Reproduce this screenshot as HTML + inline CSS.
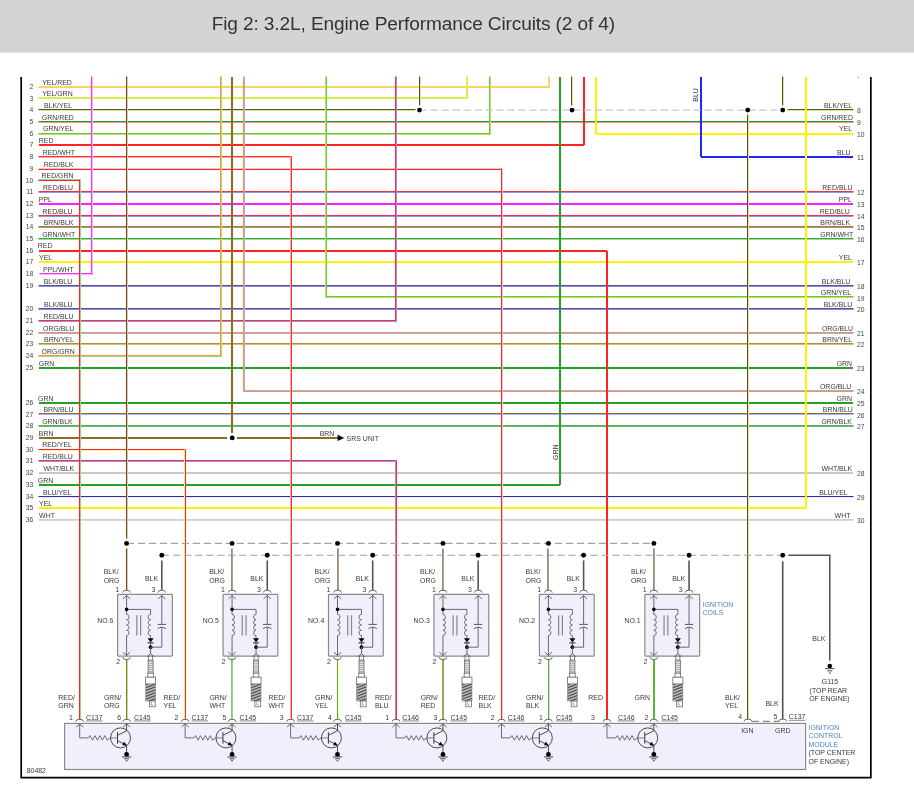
<!DOCTYPE html>
<html><head><meta charset="utf-8"><title>Fig 2: 3.2L, Engine Performance Circuits (2 of 4)</title>
<style>
html,body{margin:0;padding:0;background:#fff;}
body{width:914px;height:810px;position:relative;overflow:hidden;font-family:"Liberation Sans",Arial,sans-serif;}
.hdr{position:absolute;left:0;top:0;width:914px;height:52px;background:#d4d4d4;border-bottom:1px solid #e6e6e6;}
svg{position:absolute;left:0;top:0;}
svg text{font-family:"Liberation Sans",Arial,sans-serif;}
</style></head>
<body>
<div class="hdr"></div>
<svg width="914" height="810" viewBox="0 0 914 810">
<text x="211.7" y="29.9" font-size="19.1" fill="#333" textLength="403.5">Fig 2: 3.2L, Engine Performance Circuits (2 of 4)</text>
<path d="M21.2,77 L21.2,777.6 L870.85,777.6 L870.85,77" stroke="#000" stroke-width="1.7" fill="none"/>
<path d="M39.0,122.5 L853.0,122.5" stroke="#ff9090" stroke-width="1" fill="none" stroke-linecap="square"/>
<path d="M39.0,121.5 L853.0,121.5" stroke="#2a9a24" stroke-width="1" fill="none" stroke-linecap="square"/>
<path d="M39.0,192.5 L853.0,192.5" stroke="#9a90f0" stroke-width="1" fill="none" stroke-linecap="square"/>
<path d="M39.0,191.5 L853.0,191.5" stroke="#f23040" stroke-width="1" fill="none" stroke-linecap="square"/>
<path d="M39.0,204.0 L853.0,204.0" stroke="#ff1eff" stroke-width="2" fill="none"/>
<path d="M39.0,216.5 L853.0,216.5" stroke="#9a90f0" stroke-width="1" fill="none" stroke-linecap="square"/>
<path d="M39.0,215.5 L853.0,215.5" stroke="#f23040" stroke-width="1" fill="none" stroke-linecap="square"/>
<path d="M39.0,227.5 L853.0,227.5" stroke="#b09870" stroke-width="1" fill="none" stroke-linecap="square"/>
<path d="M39.0,226.5 L853.0,226.5" stroke="#9c7c44" stroke-width="1" fill="none" stroke-linecap="square"/>
<path d="M39.0,239.5 L853.0,239.5" stroke="#a0dca0" stroke-width="1" fill="none" stroke-linecap="square"/>
<path d="M39.0,238.5 L853.0,238.5" stroke="#2ea82e" stroke-width="1" fill="none" stroke-linecap="square"/>
<path d="M39.0,262.0 L853.0,262.0" stroke="#fff200" stroke-width="2" fill="none"/>
<path d="M39.0,286.5 L853.0,286.5" stroke="#8888ff" stroke-width="1" fill="none" stroke-linecap="square"/>
<path d="M39.0,285.5 L853.0,285.5" stroke="#585868" stroke-width="1" fill="none" stroke-linecap="square"/>
<path d="M39.0,309.5 L853.0,309.5" stroke="#8888ff" stroke-width="1" fill="none" stroke-linecap="square"/>
<path d="M39.0,308.5 L853.0,308.5" stroke="#585868" stroke-width="1" fill="none" stroke-linecap="square"/>
<path d="M39.0,333.5 L853.0,333.5" stroke="#a8a8ff" stroke-width="1" fill="none" stroke-linecap="square"/>
<path d="M39.0,332.5 L853.0,332.5" stroke="#ff9432" stroke-width="1" fill="none" stroke-linecap="square"/>
<path d="M39.0,344.5 L853.0,344.5" stroke="#d0c070" stroke-width="1" fill="none" stroke-linecap="square"/>
<path d="M39.0,343.5 L853.0,343.5" stroke="#a89040" stroke-width="1" fill="none" stroke-linecap="square"/>
<path d="M39.0,368.0 L853.0,368.0" stroke="#22a422" stroke-width="2" fill="none"/>
<path d="M39.0,403.0 L853.0,403.0" stroke="#22a422" stroke-width="2" fill="none"/>
<path d="M39.0,414.5 L853.0,414.5" stroke="#b0b0ff" stroke-width="1" fill="none" stroke-linecap="square"/>
<path d="M39.0,413.5 L853.0,413.5" stroke="#8c6c28" stroke-width="1" fill="none" stroke-linecap="square"/>
<path d="M39.0,426.5 L853.0,426.5" stroke="#70b070" stroke-width="1" fill="none" stroke-linecap="square"/>
<path d="M39.0,425.5 L853.0,425.5" stroke="#54b454" stroke-width="1" fill="none" stroke-linecap="square"/>
<path d="M39.0,473.0 L853.0,473.0" stroke="#c8c8c8" stroke-width="2" fill="none"/>
<path d="M39.0,497.5 L853.0,497.5" stroke="#f8f4a0" stroke-width="1" fill="none" stroke-linecap="square"/>
<path d="M39.0,496.5 L853.0,496.5" stroke="#2424ff" stroke-width="1" fill="none" stroke-linecap="square"/>
<path d="M39.0,520.5 L853.0,520.5" stroke="#d8d8d8" stroke-width="1" fill="none" stroke-linecap="square"/>
<path d="M39.0,519.5 L853.0,519.5" stroke="#d0d0d0" stroke-width="1" fill="none" stroke-linecap="square"/>
<path d="M39.0,87.5 L549.0,87.5" stroke="#ffc0b8" stroke-width="1" fill="none" stroke-linecap="square"/>
<path d="M39.0,86.5 L549.0,86.5" stroke="#ffe21e" stroke-width="1" fill="none" stroke-linecap="square"/>
<path d="M39.0,98.5 L467.0,98.5" stroke="#c8ec60" stroke-width="1" fill="none" stroke-linecap="square"/>
<path d="M39.0,97.5 L467.0,97.5" stroke="#e4f03a" stroke-width="1" fill="none" stroke-linecap="square"/>
<path d="M39.0,110.5 L415.0,110.5" stroke="#ece070" stroke-width="1" fill="none" stroke-linecap="square"/>
<path d="M39.0,109.5 L415.0,109.5" stroke="#505050" stroke-width="1" fill="none" stroke-linecap="square"/>
<path d="M788.0,110.5 L853.0,110.5" stroke="#ece070" stroke-width="1" fill="none" stroke-linecap="square"/>
<path d="M788.0,109.5 L853.0,109.5" stroke="#505050" stroke-width="1" fill="none" stroke-linecap="square"/>
<path d="M39.0,134.5 L490.0,134.5" stroke="#b8e070" stroke-width="1" fill="none" stroke-linecap="square"/>
<path d="M39.0,133.5 L490.0,133.5" stroke="#6cc832" stroke-width="1" fill="none" stroke-linecap="square"/>
<path d="M596.0,134.0 L853.0,134.0" stroke="#fff200" stroke-width="2" fill="none"/>
<path d="M39.0,145.0 L584.0,145.0" stroke="#ff2424" stroke-width="2" fill="none"/>
<path d="M39.0,157.5 L291.0,157.5" stroke="#ffa8a8" stroke-width="1" fill="none" stroke-linecap="square"/>
<path d="M39.0,156.5 L291.0,156.5" stroke="#ff3030" stroke-width="1" fill="none" stroke-linecap="square"/>
<path d="M701.0,157.0 L853.0,157.0" stroke="#2424ff" stroke-width="2" fill="none"/>
<path d="M39.0,168.5 L502.0,168.5" stroke="#f8c4c4" stroke-width="1" fill="none" stroke-linecap="square"/>
<path d="M39.0,169.5 L502.0,169.5" stroke="#f02828" stroke-width="1" fill="none" stroke-linecap="square"/>
<path d="M39.0,179.5 L80.0,179.5" stroke="#90d890" stroke-width="1" fill="none" stroke-linecap="square"/>
<path d="M39.0,180.5 L80.0,180.5" stroke="#ff2424" stroke-width="1" fill="none" stroke-linecap="square"/>
<path d="M39.0,251.0 L607.0,251.0" stroke="#ff2424" stroke-width="2" fill="none"/>
<path d="M40.0,274.5 L92.0,274.5" stroke="#ffb0ff" stroke-width="1" fill="none" stroke-linecap="square"/>
<path d="M40.0,273.5 L92.0,273.5" stroke="#ff2cff" stroke-width="1" fill="none" stroke-linecap="square"/>
<path d="M326.0,297.5 L853.0,297.5" stroke="#b8e070" stroke-width="1" fill="none" stroke-linecap="square"/>
<path d="M326.0,296.5 L853.0,296.5" stroke="#6cc832" stroke-width="1" fill="none" stroke-linecap="square"/>
<path d="M39.0,321.5 L396.0,321.5" stroke="#9a90f0" stroke-width="1" fill="none" stroke-linecap="square"/>
<path d="M39.0,320.5 L396.0,320.5" stroke="#f23040" stroke-width="1" fill="none" stroke-linecap="square"/>
<path d="M39.0,356.5 L221.0,356.5" stroke="#b0d880" stroke-width="1" fill="none" stroke-linecap="square"/>
<path d="M39.0,355.5 L221.0,355.5" stroke="#ff9432" stroke-width="1" fill="none" stroke-linecap="square"/>
<path d="M244.0,390.5 L853.0,390.5" stroke="#a8a8ff" stroke-width="1" fill="none" stroke-linecap="square"/>
<path d="M244.0,391.5 L853.0,391.5" stroke="#ff9432" stroke-width="1" fill="none" stroke-linecap="square"/>
<path d="M39.0,438.0 L227.0,438.0" stroke="#8c6c1e" stroke-width="2" fill="none"/>
<path d="M237.0,438.0 L338.0,438.0" stroke="#8c6c1e" stroke-width="2" fill="none"/>
<path d="M39.0,450.5 L185.0,450.5" stroke="#fff090" stroke-width="1" fill="none" stroke-linecap="square"/>
<path d="M39.0,449.5 L185.0,449.5" stroke="#ff2424" stroke-width="1" fill="none" stroke-linecap="square"/>
<path d="M39.0,461.5 L396.0,461.5" stroke="#9a90f0" stroke-width="1" fill="none" stroke-linecap="square"/>
<path d="M39.0,460.5 L396.0,460.5" stroke="#f23040" stroke-width="1" fill="none" stroke-linecap="square"/>
<path d="M39.0,485.0 L560.0,485.0" stroke="#22a422" stroke-width="2" fill="none"/>
<path d="M39.0,508.0 L806.0,508.0" stroke="#fff200" stroke-width="2" fill="none"/>
<path d="M549.5,87.0 L549.5,77.0" stroke="#ffc0b8" stroke-width="1" fill="none" stroke-linecap="square"/>
<path d="M548.5,87.0 L548.5,77.0" stroke="#ffe21e" stroke-width="1" fill="none" stroke-linecap="square"/>
<path d="M467.5,98.0 L467.5,77.0" stroke="#c8ec60" stroke-width="1" fill="none" stroke-linecap="square"/>
<path d="M466.5,98.0 L466.5,77.0" stroke="#e4f03a" stroke-width="1" fill="none" stroke-linecap="square"/>
<path d="M420.5,77.0 L420.5,105.0" stroke="#ece070" stroke-width="1" fill="none" stroke-linecap="square"/>
<path d="M419.5,77.0 L419.5,105.0" stroke="#505050" stroke-width="1" fill="none" stroke-linecap="square"/>
<path d="M572.5,77.0 L572.5,105.0" stroke="#ece070" stroke-width="1" fill="none" stroke-linecap="square"/>
<path d="M571.5,77.0 L571.5,105.0" stroke="#505050" stroke-width="1" fill="none" stroke-linecap="square"/>
<path d="M783.5,77.0 L783.5,105.0" stroke="#ece070" stroke-width="1" fill="none" stroke-linecap="square"/>
<path d="M782.5,77.0 L782.5,105.0" stroke="#505050" stroke-width="1" fill="none" stroke-linecap="square"/>
<path d="M748.5,115.0 L748.5,719.0" stroke="#ece070" stroke-width="1" fill="none" stroke-linecap="square"/>
<path d="M747.5,115.0 L747.5,719.0" stroke="#505050" stroke-width="1" fill="none" stroke-linecap="square"/>
<path d="M490.5,134.0 L490.5,77.0" stroke="#b8e070" stroke-width="1" fill="none" stroke-linecap="square"/>
<path d="M489.5,134.0 L489.5,77.0" stroke="#6cc832" stroke-width="1" fill="none" stroke-linecap="square"/>
<path d="M596.0,77.0 L596.0,134.0" stroke="#fff200" stroke-width="2" fill="none"/>
<path d="M584.0,145.0 L584.0,77.0" stroke="#ff2424" stroke-width="2" fill="none"/>
<path d="M290.5,157.0 L290.5,719.0" stroke="#ffa8a8" stroke-width="1" fill="none" stroke-linecap="square"/>
<path d="M291.5,157.0 L291.5,719.0" stroke="#ff3030" stroke-width="1" fill="none" stroke-linecap="square"/>
<path d="M701.0,77.0 L701.0,157.0" stroke="#2424ff" stroke-width="2" fill="none"/>
<path d="M502.5,169.0 L502.5,719.0" stroke="#f8c4c4" stroke-width="1" fill="none" stroke-linecap="square"/>
<path d="M501.5,169.0 L501.5,719.0" stroke="#f02828" stroke-width="1" fill="none" stroke-linecap="square"/>
<path d="M80.5,180.0 L80.5,719.0" stroke="#90d890" stroke-width="1" fill="none" stroke-linecap="square"/>
<path d="M79.5,180.0 L79.5,719.0" stroke="#ff2424" stroke-width="1" fill="none" stroke-linecap="square"/>
<path d="M607.0,251.0 L607.0,719.0" stroke="#ff2424" stroke-width="2" fill="none"/>
<path d="M92.5,274.0 L92.5,77.0" stroke="#ffb0ff" stroke-width="1" fill="none" stroke-linecap="square"/>
<path d="M91.5,274.0 L91.5,77.0" stroke="#ff2cff" stroke-width="1" fill="none" stroke-linecap="square"/>
<path d="M325.5,77.0 L325.5,297.0" stroke="#b8e070" stroke-width="1" fill="none" stroke-linecap="square"/>
<path d="M326.5,77.0 L326.5,297.0" stroke="#6cc832" stroke-width="1" fill="none" stroke-linecap="square"/>
<path d="M396.5,321.0 L396.5,77.0" stroke="#9a90f0" stroke-width="1" fill="none" stroke-linecap="square"/>
<path d="M395.5,321.0 L395.5,77.0" stroke="#f23040" stroke-width="1" fill="none" stroke-linecap="square"/>
<path d="M221.5,356.0 L221.5,77.0" stroke="#b0d880" stroke-width="1" fill="none" stroke-linecap="square"/>
<path d="M220.5,356.0 L220.5,77.0" stroke="#ff9432" stroke-width="1" fill="none" stroke-linecap="square"/>
<path d="M244.5,77.0 L244.5,391.0" stroke="#a8a8ff" stroke-width="1" fill="none" stroke-linecap="square"/>
<path d="M243.5,77.0 L243.5,391.0" stroke="#ff9432" stroke-width="1" fill="none" stroke-linecap="square"/>
<path d="M232.0,77.0 L232.0,433.0" stroke="#8c6c1e" stroke-width="2" fill="none"/>
<path d="M184.5,450.0 L184.5,719.0" stroke="#fff090" stroke-width="1" fill="none" stroke-linecap="square"/>
<path d="M185.5,450.0 L185.5,719.0" stroke="#ff2424" stroke-width="1" fill="none" stroke-linecap="square"/>
<path d="M395.5,461.0 L395.5,719.0" stroke="#9a90f0" stroke-width="1" fill="none" stroke-linecap="square"/>
<path d="M396.5,461.0 L396.5,719.0" stroke="#f23040" stroke-width="1" fill="none" stroke-linecap="square"/>
<path d="M560.0,485.0 L560.0,77.0" stroke="#22a422" stroke-width="2" fill="none"/>
<path d="M806.0,508.0 L806.0,77.0" stroke="#fff200" stroke-width="2" fill="none"/>
<path d="M127.5,77.0 L127.5,538.0" stroke="#ffc080" stroke-width="1" fill="none" stroke-linecap="square"/>
<path d="M126.5,77.0 L126.5,538.0" stroke="#505050" stroke-width="1" fill="none" stroke-linecap="square"/>
<path d="M127.5,549.0 L127.5,590.0" stroke="#ffc080" stroke-width="1" fill="none" stroke-linecap="square"/>
<path d="M126.5,549.0 L126.5,590.0" stroke="#505050" stroke-width="1" fill="none" stroke-linecap="square"/>
<path d="M127.5,660.0 L127.5,719.0" stroke="#ffc080" stroke-width="1" fill="none" stroke-linecap="square"/>
<path d="M126.5,660.0 L126.5,719.0" stroke="#2ea82e" stroke-width="1" fill="none" stroke-linecap="square"/>
<path d="M232.5,549.0 L232.5,590.0" stroke="#c49a74" stroke-width="1" fill="none" stroke-linecap="square"/>
<path d="M231.5,549.0 L231.5,590.0" stroke="#8c8c94" stroke-width="1" fill="none" stroke-linecap="square"/>
<path d="M232.5,660.0 L232.5,719.0" stroke="#9ad08a" stroke-width="1" fill="none" stroke-linecap="square"/>
<path d="M231.5,660.0 L231.5,719.0" stroke="#8acb6e" stroke-width="1" fill="none" stroke-linecap="square"/>
<path d="M338.5,549.0 L338.5,590.0" stroke="#c49a74" stroke-width="1" fill="none" stroke-linecap="square"/>
<path d="M337.5,549.0 L337.5,590.0" stroke="#8c8c94" stroke-width="1" fill="none" stroke-linecap="square"/>
<path d="M338.5,660.0 L338.5,719.0" stroke="#ffffa8" stroke-width="1" fill="none" stroke-linecap="square"/>
<path d="M337.5,660.0 L337.5,719.0" stroke="#4cb22a" stroke-width="1" fill="none" stroke-linecap="square"/>
<path d="M443.5,549.0 L443.5,590.0" stroke="#c49a74" stroke-width="1" fill="none" stroke-linecap="square"/>
<path d="M442.5,549.0 L442.5,590.0" stroke="#8c8c94" stroke-width="1" fill="none" stroke-linecap="square"/>
<path d="M443.5,660.0 L443.5,719.0" stroke="#b89060" stroke-width="1" fill="none" stroke-linecap="square"/>
<path d="M442.5,660.0 L442.5,719.0" stroke="#78c860" stroke-width="1" fill="none" stroke-linecap="square"/>
<path d="M548.5,549.0 L548.5,590.0" stroke="#c49a74" stroke-width="1" fill="none" stroke-linecap="square"/>
<path d="M547.5,549.0 L547.5,590.0" stroke="#8c8c94" stroke-width="1" fill="none" stroke-linecap="square"/>
<path d="M549.5,660.0 L549.5,719.0" stroke="#e2dce6" stroke-width="1" fill="none" stroke-linecap="square"/>
<path d="M548.5,660.0 L548.5,719.0" stroke="#50b232" stroke-width="1" fill="none" stroke-linecap="square"/>
<path d="M654.5,549.0 L654.5,590.0" stroke="#c49a74" stroke-width="1" fill="none" stroke-linecap="square"/>
<path d="M653.5,549.0 L653.5,590.0" stroke="#8c8c94" stroke-width="1" fill="none" stroke-linecap="square"/>
<path d="M654.0,660.0 L654.0,719.0" stroke="#5cb834" stroke-width="2" fill="none"/>
<path d="M337.6,434.68 L344.2,437.88 L337.6,441.08 Z" fill="#000"/>
<text x="346.50" y="441.20" font-size="6.95" fill="#3a3a3a">SRS UNIT</text>
<text x="319.70" y="435.50" font-size="6.95" fill="#3a3a3a">BRN</text>
<circle cx="232.20" cy="437.88" r="2.45" fill="#000"/>
<path d="M422.60,110.11 L426.80,110.11 M430.70,110.11 L438.00,110.11 M441.65,110.11 L448.95,110.11 M452.60,110.11 L459.90,110.11 M463.55,110.11 L470.85,110.11 M474.50,110.11 L481.80,110.11 M485.45,110.11 L492.75,110.11 M496.40,110.11 L503.70,110.11 M507.35,110.11 L514.65,110.11 M518.30,110.11 L525.60,110.11 M529.25,110.11 L536.55,110.11 M540.20,110.11 L547.50,110.11 M551.15,110.11 L558.45,110.11 M562.10,110.11 L569.40,110.11 M573.05,110.11 L580.35,110.11 M584.00,110.11 L591.30,110.11 M594.95,110.11 L602.25,110.11 M605.90,110.11 L613.20,110.11 M616.85,110.11 L624.15,110.11 M627.80,110.11 L635.10,110.11 M638.75,110.11 L646.05,110.11 M649.70,110.11 L657.00,110.11 M660.65,110.11 L667.95,110.11 M671.60,110.11 L678.90,110.11 M682.55,110.11 L689.85,110.11 M693.50,110.11 L700.80,110.11 M704.45,110.11 L711.75,110.11 M715.40,110.11 L722.70,110.11 M726.35,110.11 L733.65,110.11 M737.30,110.11 L744.60,110.11 M748.25,110.11 L755.55,110.11 M759.20,110.11 L766.50,110.11 M770.15,110.11 L777.45,110.11 " stroke="#c8c8c8" stroke-width="1.3" fill="none"/>
<circle cx="419.50" cy="110.11" r="2.45" fill="#000"/>
<circle cx="572.00" cy="110.11" r="2.45" fill="#000"/>
<circle cx="747.70" cy="110.11" r="2.45" fill="#000"/>
<circle cx="782.70" cy="110.11" r="2.45" fill="#000"/>
<text x="33.30" y="88.90" font-size="6.75" text-anchor="end" fill="#444">2</text>
<text x="42.20" y="84.60" font-size="6.95" fill="#3a3a3a">YEL/RED</text>
<text x="33.30" y="100.61" font-size="6.75" text-anchor="end" fill="#444">3</text>
<text x="42.20" y="96.31" font-size="6.95" fill="#3a3a3a">YEL/GRN</text>
<text x="33.30" y="112.31" font-size="6.75" text-anchor="end" fill="#444">4</text>
<text x="44.00" y="108.01" font-size="6.95" fill="#3a3a3a">BLK/YEL</text>
<text x="33.30" y="124.02" font-size="6.75" text-anchor="end" fill="#444">5</text>
<text x="41.80" y="119.72" font-size="6.95" fill="#3a3a3a">GRN/RED</text>
<text x="33.30" y="135.72" font-size="6.75" text-anchor="end" fill="#444">6</text>
<text x="43.00" y="131.42" font-size="6.95" fill="#3a3a3a">GRN/YEL</text>
<text x="33.30" y="147.43" font-size="6.75" text-anchor="end" fill="#444">7</text>
<text x="38.80" y="143.13" font-size="6.95" fill="#3a3a3a">RED</text>
<text x="33.30" y="159.14" font-size="6.75" text-anchor="end" fill="#444">8</text>
<text x="42.70" y="154.84" font-size="6.95" fill="#3a3a3a">RED/WHT</text>
<text x="33.30" y="170.84" font-size="6.75" text-anchor="end" fill="#444">9</text>
<text x="43.70" y="166.54" font-size="6.95" fill="#3a3a3a">RED/BLK</text>
<text x="33.30" y="182.55" font-size="6.75" text-anchor="end" fill="#444">10</text>
<text x="41.50" y="178.25" font-size="6.95" fill="#3a3a3a">RED/GRN</text>
<text x="33.30" y="194.25" font-size="6.75" text-anchor="end" fill="#444">11</text>
<text x="43.00" y="189.95" font-size="6.95" fill="#3a3a3a">RED/BLU</text>
<text x="33.30" y="205.96" font-size="6.75" text-anchor="end" fill="#444">12</text>
<text x="38.80" y="201.66" font-size="6.95" fill="#3a3a3a">PPL</text>
<text x="33.30" y="217.97" font-size="6.75" text-anchor="end" fill="#444">13</text>
<text x="42.50" y="213.67" font-size="6.95" fill="#3a3a3a">RED/BLU</text>
<text x="33.30" y="229.37" font-size="6.75" text-anchor="end" fill="#444">14</text>
<text x="43.70" y="225.07" font-size="6.95" fill="#3a3a3a">BRN/BLK</text>
<text x="33.30" y="241.08" font-size="6.75" text-anchor="end" fill="#444">15</text>
<text x="42.20" y="236.78" font-size="6.95" fill="#3a3a3a">GRN/WHT</text>
<text x="33.30" y="252.78" font-size="6.75" text-anchor="end" fill="#444">16</text>
<text x="37.80" y="248.48" font-size="6.95" fill="#3a3a3a">RED</text>
<text x="33.30" y="264.49" font-size="6.75" text-anchor="end" fill="#444">17</text>
<text x="39.10" y="260.19" font-size="6.95" fill="#3a3a3a">YEL</text>
<text x="33.30" y="276.20" font-size="6.75" text-anchor="end" fill="#444">18</text>
<text x="43.00" y="271.90" font-size="6.95" fill="#3a3a3a">PPL/WHT</text>
<text x="33.30" y="287.90" font-size="6.75" text-anchor="end" fill="#444">19</text>
<text x="43.70" y="283.60" font-size="6.95" fill="#3a3a3a">BLK/BLU</text>
<text x="33.30" y="311.31" font-size="6.75" text-anchor="end" fill="#444">20</text>
<text x="44.00" y="307.01" font-size="6.95" fill="#3a3a3a">BLK/BLU</text>
<text x="33.30" y="323.02" font-size="6.75" text-anchor="end" fill="#444">21</text>
<text x="43.40" y="318.72" font-size="6.95" fill="#3a3a3a">RED/BLU</text>
<text x="33.30" y="334.93" font-size="6.75" text-anchor="end" fill="#444">22</text>
<text x="43.00" y="330.63" font-size="6.95" fill="#3a3a3a">ORG/BLU</text>
<text x="33.30" y="346.43" font-size="6.75" text-anchor="end" fill="#444">23</text>
<text x="44.10" y="342.13" font-size="6.95" fill="#3a3a3a">BRN/YEL</text>
<text x="33.30" y="358.14" font-size="6.75" text-anchor="end" fill="#444">24</text>
<text x="41.60" y="353.84" font-size="6.95" fill="#3a3a3a">ORG/GRN</text>
<text x="33.30" y="369.84" font-size="6.75" text-anchor="end" fill="#444">25</text>
<text x="38.80" y="365.54" font-size="6.95" fill="#3a3a3a">GRN</text>
<text x="33.30" y="404.96" font-size="6.75" text-anchor="end" fill="#444">26</text>
<text x="38.10" y="400.66" font-size="6.95" fill="#3a3a3a">GRN</text>
<text x="33.30" y="416.67" font-size="6.75" text-anchor="end" fill="#444">27</text>
<text x="43.40" y="412.37" font-size="6.95" fill="#3a3a3a">BRN/BLU</text>
<text x="33.30" y="428.37" font-size="6.75" text-anchor="end" fill="#444">28</text>
<text x="42.20" y="424.07" font-size="6.95" fill="#3a3a3a">GRN/BLK</text>
<text x="33.30" y="440.08" font-size="6.75" text-anchor="end" fill="#444">29</text>
<text x="38.80" y="435.78" font-size="6.95" fill="#3a3a3a">BRN</text>
<text x="33.30" y="451.79" font-size="6.75" text-anchor="end" fill="#444">30</text>
<text x="42.20" y="447.49" font-size="6.95" fill="#3a3a3a">RED/YEL</text>
<text x="33.30" y="463.49" font-size="6.75" text-anchor="end" fill="#444">31</text>
<text x="42.70" y="459.19" font-size="6.95" fill="#3a3a3a">RED/BLU</text>
<text x="33.30" y="475.20" font-size="6.75" text-anchor="end" fill="#444">32</text>
<text x="43.40" y="470.90" font-size="6.95" fill="#3a3a3a">WHT/BLK</text>
<text x="33.30" y="486.90" font-size="6.75" text-anchor="end" fill="#444">33</text>
<text x="37.80" y="482.60" font-size="6.95" fill="#3a3a3a">GRN</text>
<text x="33.30" y="498.91" font-size="6.75" text-anchor="end" fill="#444">34</text>
<text x="43.00" y="494.61" font-size="6.95" fill="#3a3a3a">BLU/YEL</text>
<text x="33.30" y="510.32" font-size="6.75" text-anchor="end" fill="#444">35</text>
<text x="39.10" y="506.02" font-size="6.95" fill="#3a3a3a">YEL</text>
<text x="33.30" y="522.02" font-size="6.75" text-anchor="end" fill="#444">36</text>
<text x="39.10" y="517.72" font-size="6.95" fill="#3a3a3a">WHT</text>
<text x="857.00" y="113.21" font-size="6.75" fill="#444">8</text>
<text x="838.00" y="108.01" font-size="6.95" text-anchor="middle" fill="#3a3a3a">BLK/YEL</text>
<text x="857.00" y="124.92" font-size="6.75" fill="#444">9</text>
<text x="837.00" y="119.72" font-size="6.95" text-anchor="middle" fill="#3a3a3a">GRN/RED</text>
<text x="857.00" y="136.62" font-size="6.75" fill="#444">10</text>
<text x="852.10" y="131.42" font-size="6.95" text-anchor="end" fill="#3a3a3a">YEL</text>
<text x="857.00" y="160.04" font-size="6.75" fill="#444">11</text>
<text x="850.60" y="154.84" font-size="6.95" text-anchor="end" fill="#3a3a3a">BLU</text>
<text x="857.00" y="195.15" font-size="6.75" fill="#444">12</text>
<text x="837.40" y="189.95" font-size="6.95" text-anchor="middle" fill="#3a3a3a">RED/BLU</text>
<text x="857.00" y="206.86" font-size="6.75" fill="#444">13</text>
<text x="851.90" y="201.66" font-size="6.95" text-anchor="end" fill="#3a3a3a">PPL</text>
<text x="857.00" y="218.87" font-size="6.75" fill="#444">14</text>
<text x="834.80" y="213.67" font-size="6.95" text-anchor="middle" fill="#3a3a3a">RED/BLU</text>
<text x="857.00" y="230.27" font-size="6.75" fill="#444">15</text>
<text x="835.20" y="225.07" font-size="6.95" text-anchor="middle" fill="#3a3a3a">BRN/BLK</text>
<text x="857.00" y="241.98" font-size="6.75" fill="#444">16</text>
<text x="836.70" y="236.78" font-size="6.95" text-anchor="middle" fill="#3a3a3a">GRN/WHT</text>
<text x="857.00" y="265.39" font-size="6.75" fill="#444">17</text>
<text x="851.90" y="260.19" font-size="6.95" text-anchor="end" fill="#3a3a3a">YEL</text>
<text x="857.00" y="288.80" font-size="6.75" fill="#444">18</text>
<text x="836.10" y="283.60" font-size="6.95" text-anchor="middle" fill="#3a3a3a">BLK/BLU</text>
<text x="857.00" y="300.51" font-size="6.75" fill="#444">19</text>
<text x="836.00" y="295.31" font-size="6.95" text-anchor="middle" fill="#3a3a3a">GRN/YEL</text>
<text x="857.00" y="312.21" font-size="6.75" fill="#444">20</text>
<text x="837.90" y="307.01" font-size="6.95" text-anchor="middle" fill="#3a3a3a">BLK/BLU</text>
<text x="857.00" y="335.83" font-size="6.75" fill="#444">21</text>
<text x="837.50" y="330.63" font-size="6.95" text-anchor="middle" fill="#3a3a3a">ORG/BLU</text>
<text x="857.00" y="347.33" font-size="6.75" fill="#444">22</text>
<text x="837.20" y="342.13" font-size="6.95" text-anchor="middle" fill="#3a3a3a">BRN/YEL</text>
<text x="857.00" y="370.74" font-size="6.75" fill="#444">23</text>
<text x="852.10" y="365.54" font-size="6.95" text-anchor="end" fill="#3a3a3a">GRN</text>
<text x="857.00" y="394.16" font-size="6.75" fill="#444">24</text>
<text x="835.60" y="388.96" font-size="6.95" text-anchor="middle" fill="#3a3a3a">ORG/BLU</text>
<text x="857.00" y="405.86" font-size="6.75" fill="#444">25</text>
<text x="852.00" y="400.66" font-size="6.95" text-anchor="end" fill="#3a3a3a">GRN</text>
<text x="857.00" y="417.57" font-size="6.75" fill="#444">26</text>
<text x="837.80" y="412.37" font-size="6.95" text-anchor="middle" fill="#3a3a3a">BRN/BLU</text>
<text x="857.00" y="429.27" font-size="6.75" fill="#444">27</text>
<text x="836.70" y="424.07" font-size="6.95" text-anchor="middle" fill="#3a3a3a">GRN/BLK</text>
<text x="857.00" y="476.10" font-size="6.75" fill="#444">28</text>
<text x="836.80" y="470.90" font-size="6.95" text-anchor="middle" fill="#3a3a3a">WHT/BLK</text>
<text x="857.00" y="499.81" font-size="6.75" fill="#444">29</text>
<text x="833.40" y="494.61" font-size="6.95" text-anchor="middle" fill="#3a3a3a">BLU/YEL</text>
<text x="857.00" y="522.92" font-size="6.75" fill="#444">30</text>
<text x="850.40" y="517.72" font-size="6.95" text-anchor="end" fill="#3a3a3a">WHT</text>
<text x="0" y="0" font-size="6.95" fill="#3a3a3a" text-anchor="middle" transform="translate(697.6,95) rotate(-90)">BLU</text>
<text x="0" y="0" font-size="6.95" fill="#3a3a3a" text-anchor="middle" transform="translate(557.7,452.2) rotate(-90)">GRN</text>
<path d="M129.60,543.4 L133.90,543.4 M137.90,543.4 L145.20,543.4 M148.88,543.4 L156.18,543.4 M159.85,543.4 L167.15,543.4 M170.82,543.4 L178.12,543.4 M181.80,543.4 L189.10,543.4 M192.77,543.4 L200.07,543.4 M203.75,543.4 L211.05,543.4 M214.72,543.4 L222.02,543.4 M225.70,543.4 L233.00,543.4 M236.67,543.4 L243.97,543.4 M247.65,543.4 L254.95,543.4 M258.62,543.4 L265.92,543.4 M269.60,543.4 L276.90,543.4 M280.57,543.4 L287.88,543.4 M291.55,543.4 L298.85,543.4 M302.53,543.4 L309.83,543.4 M313.50,543.4 L320.80,543.4 M324.48,543.4 L331.78,543.4 M335.45,543.4 L342.75,543.4 M346.43,543.4 L353.73,543.4 M357.40,543.4 L364.70,543.4 M368.38,543.4 L375.68,543.4 M379.35,543.4 L386.65,543.4 M390.33,543.4 L397.63,543.4 M401.30,543.4 L408.60,543.4 M412.28,543.4 L419.58,543.4 M423.25,543.4 L430.55,543.4 M434.23,543.4 L441.53,543.4 M445.20,543.4 L452.50,543.4 M456.18,543.4 L463.48,543.4 M467.15,543.4 L474.45,543.4 M478.13,543.4 L485.43,543.4 M489.10,543.4 L496.40,543.4 M500.08,543.4 L507.38,543.4 M511.05,543.4 L518.35,543.4 M522.03,543.4 L529.33,543.4 M533.00,543.4 L540.30,543.4 M543.98,543.4 L551.28,543.4 M554.95,543.4 L562.25,543.4 M565.93,543.4 L573.23,543.4 M576.90,543.4 L584.20,543.4 M587.88,543.4 L595.18,543.4 M598.85,543.4 L606.15,543.4 M609.83,543.4 L617.13,543.4 M620.80,543.4 L628.10,543.4 M631.78,543.4 L639.08,543.4 M642.75,543.4 L650.05,543.4 " stroke="#a2a2a2" stroke-width="1.1" fill="none"/>
<path d="M163.90,555.3 L168.90,555.3 M173.30,555.3 L180.60,555.3 M184.28,555.3 L191.58,555.3 M195.25,555.3 L202.55,555.3 M206.22,555.3 L213.53,555.3 M217.20,555.3 L224.50,555.3 M228.17,555.3 L235.47,555.3 M239.15,555.3 L246.45,555.3 M250.12,555.3 L257.42,555.3 M261.10,555.3 L268.40,555.3 M272.07,555.3 L279.38,555.3 M283.05,555.3 L290.35,555.3 M294.03,555.3 L301.33,555.3 M305.00,555.3 L312.30,555.3 M315.98,555.3 L323.28,555.3 M326.95,555.3 L334.25,555.3 M337.93,555.3 L345.23,555.3 M348.90,555.3 L356.20,555.3 M359.88,555.3 L367.18,555.3 M370.85,555.3 L378.15,555.3 M381.83,555.3 L389.13,555.3 M392.80,555.3 L400.10,555.3 M403.78,555.3 L411.08,555.3 M414.75,555.3 L422.05,555.3 M425.73,555.3 L433.03,555.3 M436.70,555.3 L444.00,555.3 M447.68,555.3 L454.98,555.3 M458.65,555.3 L465.95,555.3 M469.63,555.3 L476.93,555.3 M480.60,555.3 L487.90,555.3 M491.58,555.3 L498.88,555.3 M502.55,555.3 L509.85,555.3 M513.53,555.3 L520.83,555.3 M524.50,555.3 L531.80,555.3 M535.48,555.3 L542.78,555.3 M546.45,555.3 L553.75,555.3 M557.43,555.3 L564.73,555.3 M568.40,555.3 L575.70,555.3 M579.38,555.3 L586.68,555.3 M590.35,555.3 L597.65,555.3 M601.33,555.3 L608.63,555.3 M612.30,555.3 L619.60,555.3 M623.28,555.3 L630.58,555.3 M634.25,555.3 L641.55,555.3 M645.23,555.3 L652.53,555.3 M656.20,555.3 L663.50,555.3 M667.18,555.3 L674.48,555.3 M678.15,555.3 L685.45,555.3 M689.13,555.3 L696.43,555.3 M700.10,555.3 L707.40,555.3 M711.08,555.3 L718.38,555.3 M722.05,555.3 L729.35,555.3 M733.03,555.3 L740.33,555.3 M744.00,555.3 L751.30,555.3 M754.98,555.3 L762.28,555.3 M765.95,555.3 L773.25,555.3 M776.93,555.3 L780.00,555.3 " stroke="#a2a2a2" stroke-width="1.1" fill="none"/>
<circle cx="782.70" cy="555.30" r="2.45" fill="#000"/>
<path d="M788.4,555.3 L829.8,555.3 L829.8,660.8" stroke="#505050" stroke-width="1.5" fill="none"/>
<path d="M782.7,561.3 L782.7,719.3" stroke="#505050" stroke-width="1.6" fill="none"/>
<circle cx="126.60" cy="543.40" r="2.45" fill="#000"/>
<circle cx="161.80" cy="555.30" r="2.45" fill="#000"/>
<path d="M161.80,560.4 L161.80,590.0" stroke="#555" stroke-width="1.6" fill="none"/>
<text x="103.70" y="573.80" font-size="6.95" fill="#3a3a3a">BLK/</text>
<text x="103.70" y="582.80" font-size="6.95" fill="#3a3a3a">ORG</text>
<text x="144.90" y="580.70" font-size="6.95" fill="#3a3a3a">BLK</text>
<text x="119.40" y="591.80" font-size="6.95" text-anchor="end" fill="#3a3a3a">1</text>
<text x="155.40" y="591.80" font-size="6.95" text-anchor="end" fill="#3a3a3a">3</text>
<path d="M122.70,592.60 Q122.70,590.20 126.60,590.20 Q130.50,590.20 130.50,592.60" stroke="#5a5a5a" stroke-width="0.9" fill="none"/>
<path d="M157.90,592.60 Q157.90,590.20 161.80,590.20 Q165.70,590.20 165.70,592.60" stroke="#5a5a5a" stroke-width="0.9" fill="none"/>
<rect x="117.60" y="594.4" width="54.8" height="61.7" rx="0.8" fill="#f0f0fc" stroke="#8a8a8a" stroke-width="1.2"/>
<text x="97.20" y="622.90" font-size="6.95" fill="#3a3a3a">NO.6</text>
<path d="M126.60,595.3 L126.60,614.4 M126.60,635.6 L126.60,655.4" stroke="#5a5a5a" stroke-width="0.9" fill="none"/>
<path d="M123.00,598.80 L126.60,595.60 L130.20,598.80" stroke="#5a5a5a" stroke-width="0.9" fill="none"/>
<path d="M123.00,652.20 L126.60,655.40 L130.20,652.20" stroke="#5a5a5a" stroke-width="0.9" fill="none"/>
<path d="M126.60,609.4 L150.60,609.4 L150.60,614.4" stroke="#5a5a5a" stroke-width="0.9" fill="none"/>
<circle cx="126.60" cy="609.40" r="1.8" fill="#000"/>
<path d="M126.60,614.40 C129.79,614.40 129.79,619.70 126.60,619.70 C129.79,619.70 129.79,625.00 126.60,625.00 C129.79,625.00 129.79,630.30 126.60,630.30 C129.79,630.30 129.79,635.60 126.60,635.60" stroke="#5a5a5a" stroke-width="0.9" fill="none"/>
<path d="M150.60,614.40 C147.41,614.40 147.41,619.70 150.60,619.70 C147.41,619.70 147.41,625.00 150.60,625.00 C147.41,625.00 147.41,630.30 150.60,630.30 C147.41,630.30 147.41,635.60 150.60,635.60" stroke="#5a5a5a" stroke-width="0.9" fill="none"/>
<path d="M136.80,615.3 L136.80,635.6 M140.60,615.3 L140.60,635.6" stroke="#8a8a8a" stroke-width="1.25" fill="none"/>
<path d="M150.60,635.6 L150.60,638.4 M150.60,643.2 L150.60,647.2" stroke="#5a5a5a" stroke-width="0.9" fill="none"/>
<path d="M147.60,638.3 L153.60,638.3 L150.60,642.5 Z" fill="#000"/>
<path d="M147.60,642.9 L153.60,642.9" stroke="#000" stroke-width="0.9"/>
<circle cx="150.60" cy="647.20" r="1.9" fill="#000"/>
<path d="M150.60,647.2 L161.80,647.2 L161.80,627.6 M161.80,624.4 L161.80,595.3" stroke="#5a5a5a" stroke-width="0.9" fill="none"/>
<path d="M157.60,624.4 L166.00,624.4" stroke="#5a5a5a" stroke-width="1.0"/>
<path d="M157.60,628.8 Q161.80,625.6 166.00,628.8" stroke="#5a5a5a" stroke-width="1.0" fill="none"/>
<path d="M158.20,598.80 L161.80,595.60 L165.40,598.80" stroke="#5a5a5a" stroke-width="0.9" fill="none"/>
<path d="M150.60,647.2 L150.60,653.8" stroke="#5a5a5a" stroke-width="0.9" fill="none"/>
<path d="M147.00,656.80 L150.60,653.60 L154.20,656.80" stroke="#5a5a5a" stroke-width="0.9" fill="none"/>
<rect x="148.60" y="656.2" width="4.0" height="4.0" fill="#fff" stroke="#6a6a6a" stroke-width="0.8"/>
<rect x="148.10" y="660.2" width="5.0" height="13.0" fill="#fff" stroke="#6a6a6a" stroke-width="0.8"/>
<path d="M148.10,661.80 L153.10,661.80" stroke="#6a6a6a" stroke-width="0.7"/>
<path d="M148.10,663.80 L153.10,663.80" stroke="#6a6a6a" stroke-width="0.7"/>
<path d="M148.10,665.80 L153.10,665.80" stroke="#6a6a6a" stroke-width="0.7"/>
<path d="M148.10,667.80 L153.10,667.80" stroke="#6a6a6a" stroke-width="0.7"/>
<path d="M148.10,669.80 L153.10,669.80" stroke="#6a6a6a" stroke-width="0.7"/>
<path d="M148.10,671.80 L153.10,671.80" stroke="#6a6a6a" stroke-width="0.7"/>
<rect x="147.80" y="673.2" width="5.6" height="4.0" fill="#fff" stroke="#6a6a6a" stroke-width="0.8"/>
<rect x="145.60" y="677.2" width="10.0" height="6.8" fill="#fff" stroke="#6a6a6a" stroke-width="0.8"/>
<rect x="145.60" y="684.0" width="10.0" height="17.0" fill="#b8b8b8" stroke="#9a9a9a" stroke-width="0.7"/>
<path d="M145.60,684.80 L155.60,681.00 M145.60,687.70 L155.60,683.90 M145.60,690.60 L155.60,686.80 M145.60,693.50 L155.60,689.70 M145.60,696.40 L155.60,692.60 M145.60,699.30 L155.60,695.50 M145.60,702.20 L155.60,698.40 M145.60,705.10 L155.60,701.30 " stroke="#4a4a4a" stroke-width="1.05" clip-path="url(#spc0)" fill="none"/>
<clipPath id="spc0"><rect x="145.60" y="684.0" width="10.0" height="17.0"/></clipPath>
<rect x="149.40" y="701.0" width="5.8" height="5.8" fill="#fff" stroke="#6a6a6a" stroke-width="0.8"/>
<path d="M151.40,701.5 L151.40,705 L153.00,705" stroke="#6a6a6a" stroke-width="0.6" fill="none"/>
<path d="M122.70,657.20 Q122.70,659.60 126.60,659.60 Q130.50,659.60 130.50,657.20" stroke="#5a5a5a" stroke-width="0.9" fill="none"/>
<text x="120.00" y="664.00" font-size="6.95" text-anchor="end" fill="#3a3a3a">2</text>
<circle cx="232.05" cy="543.40" r="2.45" fill="#000"/>
<circle cx="267.25" cy="555.30" r="2.45" fill="#000"/>
<path d="M267.25,560.4 L267.25,590.0" stroke="#555" stroke-width="1.6" fill="none"/>
<text x="209.15" y="573.80" font-size="6.95" fill="#3a3a3a">BLK/</text>
<text x="209.15" y="582.80" font-size="6.95" fill="#3a3a3a">ORG</text>
<text x="250.35" y="580.70" font-size="6.95" fill="#3a3a3a">BLK</text>
<text x="224.85" y="591.80" font-size="6.95" text-anchor="end" fill="#3a3a3a">1</text>
<text x="260.85" y="591.80" font-size="6.95" text-anchor="end" fill="#3a3a3a">3</text>
<path d="M228.15,592.60 Q228.15,590.20 232.05,590.20 Q235.95,590.20 235.95,592.60" stroke="#5a5a5a" stroke-width="0.9" fill="none"/>
<path d="M263.35,592.60 Q263.35,590.20 267.25,590.20 Q271.15,590.20 271.15,592.60" stroke="#5a5a5a" stroke-width="0.9" fill="none"/>
<rect x="223.05" y="594.4" width="54.8" height="61.7" rx="0.8" fill="#f0f0fc" stroke="#8a8a8a" stroke-width="1.2"/>
<text x="202.65" y="622.90" font-size="6.95" fill="#3a3a3a">NO.5</text>
<path d="M232.05,595.3 L232.05,614.4 M232.05,635.6 L232.05,655.4" stroke="#5a5a5a" stroke-width="0.9" fill="none"/>
<path d="M228.45,598.80 L232.05,595.60 L235.65,598.80" stroke="#5a5a5a" stroke-width="0.9" fill="none"/>
<path d="M228.45,652.20 L232.05,655.40 L235.65,652.20" stroke="#5a5a5a" stroke-width="0.9" fill="none"/>
<path d="M232.05,609.4 L256.05,609.4 L256.05,614.4" stroke="#5a5a5a" stroke-width="0.9" fill="none"/>
<circle cx="232.05" cy="609.40" r="1.8" fill="#000"/>
<path d="M232.05,614.40 C235.24,614.40 235.24,619.70 232.05,619.70 C235.24,619.70 235.24,625.00 232.05,625.00 C235.24,625.00 235.24,630.30 232.05,630.30 C235.24,630.30 235.24,635.60 232.05,635.60" stroke="#5a5a5a" stroke-width="0.9" fill="none"/>
<path d="M256.05,614.40 C252.86,614.40 252.86,619.70 256.05,619.70 C252.86,619.70 252.86,625.00 256.05,625.00 C252.86,625.00 252.86,630.30 256.05,630.30 C252.86,630.30 252.86,635.60 256.05,635.60" stroke="#5a5a5a" stroke-width="0.9" fill="none"/>
<path d="M242.25,615.3 L242.25,635.6 M246.05,615.3 L246.05,635.6" stroke="#8a8a8a" stroke-width="1.25" fill="none"/>
<path d="M256.05,635.6 L256.05,638.4 M256.05,643.2 L256.05,647.2" stroke="#5a5a5a" stroke-width="0.9" fill="none"/>
<path d="M253.05,638.3 L259.05,638.3 L256.05,642.5 Z" fill="#000"/>
<path d="M253.05,642.9 L259.05,642.9" stroke="#000" stroke-width="0.9"/>
<circle cx="256.05" cy="647.20" r="1.9" fill="#000"/>
<path d="M256.05,647.2 L267.25,647.2 L267.25,627.6 M267.25,624.4 L267.25,595.3" stroke="#5a5a5a" stroke-width="0.9" fill="none"/>
<path d="M263.05,624.4 L271.45,624.4" stroke="#5a5a5a" stroke-width="1.0"/>
<path d="M263.05,628.8 Q267.25,625.6 271.45,628.8" stroke="#5a5a5a" stroke-width="1.0" fill="none"/>
<path d="M263.65,598.80 L267.25,595.60 L270.85,598.80" stroke="#5a5a5a" stroke-width="0.9" fill="none"/>
<path d="M256.05,647.2 L256.05,653.8" stroke="#5a5a5a" stroke-width="0.9" fill="none"/>
<path d="M252.45,656.80 L256.05,653.60 L259.65,656.80" stroke="#5a5a5a" stroke-width="0.9" fill="none"/>
<rect x="254.05" y="656.2" width="4.0" height="4.0" fill="#fff" stroke="#6a6a6a" stroke-width="0.8"/>
<rect x="253.55" y="660.2" width="5.0" height="13.0" fill="#fff" stroke="#6a6a6a" stroke-width="0.8"/>
<path d="M253.55,661.80 L258.55,661.80" stroke="#6a6a6a" stroke-width="0.7"/>
<path d="M253.55,663.80 L258.55,663.80" stroke="#6a6a6a" stroke-width="0.7"/>
<path d="M253.55,665.80 L258.55,665.80" stroke="#6a6a6a" stroke-width="0.7"/>
<path d="M253.55,667.80 L258.55,667.80" stroke="#6a6a6a" stroke-width="0.7"/>
<path d="M253.55,669.80 L258.55,669.80" stroke="#6a6a6a" stroke-width="0.7"/>
<path d="M253.55,671.80 L258.55,671.80" stroke="#6a6a6a" stroke-width="0.7"/>
<rect x="253.25" y="673.2" width="5.6" height="4.0" fill="#fff" stroke="#6a6a6a" stroke-width="0.8"/>
<rect x="251.05" y="677.2" width="10.0" height="6.8" fill="#fff" stroke="#6a6a6a" stroke-width="0.8"/>
<rect x="251.05" y="684.0" width="10.0" height="17.0" fill="#b8b8b8" stroke="#9a9a9a" stroke-width="0.7"/>
<path d="M251.05,684.80 L261.05,681.00 M251.05,687.70 L261.05,683.90 M251.05,690.60 L261.05,686.80 M251.05,693.50 L261.05,689.70 M251.05,696.40 L261.05,692.60 M251.05,699.30 L261.05,695.50 M251.05,702.20 L261.05,698.40 M251.05,705.10 L261.05,701.30 " stroke="#4a4a4a" stroke-width="1.05" clip-path="url(#spc1)" fill="none"/>
<clipPath id="spc1"><rect x="251.05" y="684.0" width="10.0" height="17.0"/></clipPath>
<rect x="254.85" y="701.0" width="5.8" height="5.8" fill="#fff" stroke="#6a6a6a" stroke-width="0.8"/>
<path d="M256.85,701.5 L256.85,705 L258.45,705" stroke="#6a6a6a" stroke-width="0.6" fill="none"/>
<path d="M228.15,657.20 Q228.15,659.60 232.05,659.60 Q235.95,659.60 235.95,657.20" stroke="#5a5a5a" stroke-width="0.9" fill="none"/>
<text x="225.45" y="664.00" font-size="6.95" text-anchor="end" fill="#3a3a3a">2</text>
<circle cx="337.50" cy="543.40" r="2.45" fill="#000"/>
<circle cx="372.70" cy="555.30" r="2.45" fill="#000"/>
<path d="M372.70,560.4 L372.70,590.0" stroke="#555" stroke-width="1.6" fill="none"/>
<text x="314.60" y="573.80" font-size="6.95" fill="#3a3a3a">BLK/</text>
<text x="314.60" y="582.80" font-size="6.95" fill="#3a3a3a">ORG</text>
<text x="355.80" y="580.70" font-size="6.95" fill="#3a3a3a">BLK</text>
<text x="330.30" y="591.80" font-size="6.95" text-anchor="end" fill="#3a3a3a">1</text>
<text x="366.30" y="591.80" font-size="6.95" text-anchor="end" fill="#3a3a3a">3</text>
<path d="M333.60,592.60 Q333.60,590.20 337.50,590.20 Q341.40,590.20 341.40,592.60" stroke="#5a5a5a" stroke-width="0.9" fill="none"/>
<path d="M368.80,592.60 Q368.80,590.20 372.70,590.20 Q376.60,590.20 376.60,592.60" stroke="#5a5a5a" stroke-width="0.9" fill="none"/>
<rect x="328.50" y="594.4" width="54.8" height="61.7" rx="0.8" fill="#f0f0fc" stroke="#8a8a8a" stroke-width="1.2"/>
<text x="308.10" y="622.90" font-size="6.95" fill="#3a3a3a">NO.4</text>
<path d="M337.50,595.3 L337.50,614.4 M337.50,635.6 L337.50,655.4" stroke="#5a5a5a" stroke-width="0.9" fill="none"/>
<path d="M333.90,598.80 L337.50,595.60 L341.10,598.80" stroke="#5a5a5a" stroke-width="0.9" fill="none"/>
<path d="M333.90,652.20 L337.50,655.40 L341.10,652.20" stroke="#5a5a5a" stroke-width="0.9" fill="none"/>
<path d="M337.50,609.4 L361.50,609.4 L361.50,614.4" stroke="#5a5a5a" stroke-width="0.9" fill="none"/>
<circle cx="337.50" cy="609.40" r="1.8" fill="#000"/>
<path d="M337.50,614.40 C340.69,614.40 340.69,619.70 337.50,619.70 C340.69,619.70 340.69,625.00 337.50,625.00 C340.69,625.00 340.69,630.30 337.50,630.30 C340.69,630.30 340.69,635.60 337.50,635.60" stroke="#5a5a5a" stroke-width="0.9" fill="none"/>
<path d="M361.50,614.40 C358.31,614.40 358.31,619.70 361.50,619.70 C358.31,619.70 358.31,625.00 361.50,625.00 C358.31,625.00 358.31,630.30 361.50,630.30 C358.31,630.30 358.31,635.60 361.50,635.60" stroke="#5a5a5a" stroke-width="0.9" fill="none"/>
<path d="M347.70,615.3 L347.70,635.6 M351.50,615.3 L351.50,635.6" stroke="#8a8a8a" stroke-width="1.25" fill="none"/>
<path d="M361.50,635.6 L361.50,638.4 M361.50,643.2 L361.50,647.2" stroke="#5a5a5a" stroke-width="0.9" fill="none"/>
<path d="M358.50,638.3 L364.50,638.3 L361.50,642.5 Z" fill="#000"/>
<path d="M358.50,642.9 L364.50,642.9" stroke="#000" stroke-width="0.9"/>
<circle cx="361.50" cy="647.20" r="1.9" fill="#000"/>
<path d="M361.50,647.2 L372.70,647.2 L372.70,627.6 M372.70,624.4 L372.70,595.3" stroke="#5a5a5a" stroke-width="0.9" fill="none"/>
<path d="M368.50,624.4 L376.90,624.4" stroke="#5a5a5a" stroke-width="1.0"/>
<path d="M368.50,628.8 Q372.70,625.6 376.90,628.8" stroke="#5a5a5a" stroke-width="1.0" fill="none"/>
<path d="M369.10,598.80 L372.70,595.60 L376.30,598.80" stroke="#5a5a5a" stroke-width="0.9" fill="none"/>
<path d="M361.50,647.2 L361.50,653.8" stroke="#5a5a5a" stroke-width="0.9" fill="none"/>
<path d="M357.90,656.80 L361.50,653.60 L365.10,656.80" stroke="#5a5a5a" stroke-width="0.9" fill="none"/>
<rect x="359.50" y="656.2" width="4.0" height="4.0" fill="#fff" stroke="#6a6a6a" stroke-width="0.8"/>
<rect x="359.00" y="660.2" width="5.0" height="13.0" fill="#fff" stroke="#6a6a6a" stroke-width="0.8"/>
<path d="M359.00,661.80 L364.00,661.80" stroke="#6a6a6a" stroke-width="0.7"/>
<path d="M359.00,663.80 L364.00,663.80" stroke="#6a6a6a" stroke-width="0.7"/>
<path d="M359.00,665.80 L364.00,665.80" stroke="#6a6a6a" stroke-width="0.7"/>
<path d="M359.00,667.80 L364.00,667.80" stroke="#6a6a6a" stroke-width="0.7"/>
<path d="M359.00,669.80 L364.00,669.80" stroke="#6a6a6a" stroke-width="0.7"/>
<path d="M359.00,671.80 L364.00,671.80" stroke="#6a6a6a" stroke-width="0.7"/>
<rect x="358.70" y="673.2" width="5.6" height="4.0" fill="#fff" stroke="#6a6a6a" stroke-width="0.8"/>
<rect x="356.50" y="677.2" width="10.0" height="6.8" fill="#fff" stroke="#6a6a6a" stroke-width="0.8"/>
<rect x="356.50" y="684.0" width="10.0" height="17.0" fill="#b8b8b8" stroke="#9a9a9a" stroke-width="0.7"/>
<path d="M356.50,684.80 L366.50,681.00 M356.50,687.70 L366.50,683.90 M356.50,690.60 L366.50,686.80 M356.50,693.50 L366.50,689.70 M356.50,696.40 L366.50,692.60 M356.50,699.30 L366.50,695.50 M356.50,702.20 L366.50,698.40 M356.50,705.10 L366.50,701.30 " stroke="#4a4a4a" stroke-width="1.05" clip-path="url(#spc2)" fill="none"/>
<clipPath id="spc2"><rect x="356.50" y="684.0" width="10.0" height="17.0"/></clipPath>
<rect x="360.30" y="701.0" width="5.8" height="5.8" fill="#fff" stroke="#6a6a6a" stroke-width="0.8"/>
<path d="M362.30,701.5 L362.30,705 L363.90,705" stroke="#6a6a6a" stroke-width="0.6" fill="none"/>
<path d="M333.60,657.20 Q333.60,659.60 337.50,659.60 Q341.40,659.60 341.40,657.20" stroke="#5a5a5a" stroke-width="0.9" fill="none"/>
<text x="330.90" y="664.00" font-size="6.95" text-anchor="end" fill="#3a3a3a">2</text>
<circle cx="442.95" cy="543.40" r="2.45" fill="#000"/>
<circle cx="478.15" cy="555.30" r="2.45" fill="#000"/>
<path d="M478.15,560.4 L478.15,590.0" stroke="#555" stroke-width="1.6" fill="none"/>
<text x="420.05" y="573.80" font-size="6.95" fill="#3a3a3a">BLK/</text>
<text x="420.05" y="582.80" font-size="6.95" fill="#3a3a3a">ORG</text>
<text x="461.25" y="580.70" font-size="6.95" fill="#3a3a3a">BLK</text>
<text x="435.75" y="591.80" font-size="6.95" text-anchor="end" fill="#3a3a3a">1</text>
<text x="471.75" y="591.80" font-size="6.95" text-anchor="end" fill="#3a3a3a">3</text>
<path d="M439.05,592.60 Q439.05,590.20 442.95,590.20 Q446.85,590.20 446.85,592.60" stroke="#5a5a5a" stroke-width="0.9" fill="none"/>
<path d="M474.25,592.60 Q474.25,590.20 478.15,590.20 Q482.05,590.20 482.05,592.60" stroke="#5a5a5a" stroke-width="0.9" fill="none"/>
<rect x="433.95" y="594.4" width="54.8" height="61.7" rx="0.8" fill="#f0f0fc" stroke="#8a8a8a" stroke-width="1.2"/>
<text x="413.55" y="622.90" font-size="6.95" fill="#3a3a3a">NO.3</text>
<path d="M442.95,595.3 L442.95,614.4 M442.95,635.6 L442.95,655.4" stroke="#5a5a5a" stroke-width="0.9" fill="none"/>
<path d="M439.35,598.80 L442.95,595.60 L446.55,598.80" stroke="#5a5a5a" stroke-width="0.9" fill="none"/>
<path d="M439.35,652.20 L442.95,655.40 L446.55,652.20" stroke="#5a5a5a" stroke-width="0.9" fill="none"/>
<path d="M442.95,609.4 L466.95,609.4 L466.95,614.4" stroke="#5a5a5a" stroke-width="0.9" fill="none"/>
<circle cx="442.95" cy="609.40" r="1.8" fill="#000"/>
<path d="M442.95,614.40 C446.14,614.40 446.14,619.70 442.95,619.70 C446.14,619.70 446.14,625.00 442.95,625.00 C446.14,625.00 446.14,630.30 442.95,630.30 C446.14,630.30 446.14,635.60 442.95,635.60" stroke="#5a5a5a" stroke-width="0.9" fill="none"/>
<path d="M466.95,614.40 C463.76,614.40 463.76,619.70 466.95,619.70 C463.76,619.70 463.76,625.00 466.95,625.00 C463.76,625.00 463.76,630.30 466.95,630.30 C463.76,630.30 463.76,635.60 466.95,635.60" stroke="#5a5a5a" stroke-width="0.9" fill="none"/>
<path d="M453.15,615.3 L453.15,635.6 M456.95,615.3 L456.95,635.6" stroke="#8a8a8a" stroke-width="1.25" fill="none"/>
<path d="M466.95,635.6 L466.95,638.4 M466.95,643.2 L466.95,647.2" stroke="#5a5a5a" stroke-width="0.9" fill="none"/>
<path d="M463.95,638.3 L469.95,638.3 L466.95,642.5 Z" fill="#000"/>
<path d="M463.95,642.9 L469.95,642.9" stroke="#000" stroke-width="0.9"/>
<circle cx="466.95" cy="647.20" r="1.9" fill="#000"/>
<path d="M466.95,647.2 L478.15,647.2 L478.15,627.6 M478.15,624.4 L478.15,595.3" stroke="#5a5a5a" stroke-width="0.9" fill="none"/>
<path d="M473.95,624.4 L482.35,624.4" stroke="#5a5a5a" stroke-width="1.0"/>
<path d="M473.95,628.8 Q478.15,625.6 482.35,628.8" stroke="#5a5a5a" stroke-width="1.0" fill="none"/>
<path d="M474.55,598.80 L478.15,595.60 L481.75,598.80" stroke="#5a5a5a" stroke-width="0.9" fill="none"/>
<path d="M466.95,647.2 L466.95,653.8" stroke="#5a5a5a" stroke-width="0.9" fill="none"/>
<path d="M463.35,656.80 L466.95,653.60 L470.55,656.80" stroke="#5a5a5a" stroke-width="0.9" fill="none"/>
<rect x="464.95" y="656.2" width="4.0" height="4.0" fill="#fff" stroke="#6a6a6a" stroke-width="0.8"/>
<rect x="464.45" y="660.2" width="5.0" height="13.0" fill="#fff" stroke="#6a6a6a" stroke-width="0.8"/>
<path d="M464.45,661.80 L469.45,661.80" stroke="#6a6a6a" stroke-width="0.7"/>
<path d="M464.45,663.80 L469.45,663.80" stroke="#6a6a6a" stroke-width="0.7"/>
<path d="M464.45,665.80 L469.45,665.80" stroke="#6a6a6a" stroke-width="0.7"/>
<path d="M464.45,667.80 L469.45,667.80" stroke="#6a6a6a" stroke-width="0.7"/>
<path d="M464.45,669.80 L469.45,669.80" stroke="#6a6a6a" stroke-width="0.7"/>
<path d="M464.45,671.80 L469.45,671.80" stroke="#6a6a6a" stroke-width="0.7"/>
<rect x="464.15" y="673.2" width="5.6" height="4.0" fill="#fff" stroke="#6a6a6a" stroke-width="0.8"/>
<rect x="461.95" y="677.2" width="10.0" height="6.8" fill="#fff" stroke="#6a6a6a" stroke-width="0.8"/>
<rect x="461.95" y="684.0" width="10.0" height="17.0" fill="#b8b8b8" stroke="#9a9a9a" stroke-width="0.7"/>
<path d="M461.95,684.80 L471.95,681.00 M461.95,687.70 L471.95,683.90 M461.95,690.60 L471.95,686.80 M461.95,693.50 L471.95,689.70 M461.95,696.40 L471.95,692.60 M461.95,699.30 L471.95,695.50 M461.95,702.20 L471.95,698.40 M461.95,705.10 L471.95,701.30 " stroke="#4a4a4a" stroke-width="1.05" clip-path="url(#spc3)" fill="none"/>
<clipPath id="spc3"><rect x="461.95" y="684.0" width="10.0" height="17.0"/></clipPath>
<rect x="465.75" y="701.0" width="5.8" height="5.8" fill="#fff" stroke="#6a6a6a" stroke-width="0.8"/>
<path d="M467.75,701.5 L467.75,705 L469.35,705" stroke="#6a6a6a" stroke-width="0.6" fill="none"/>
<path d="M439.05,657.20 Q439.05,659.60 442.95,659.60 Q446.85,659.60 446.85,657.20" stroke="#5a5a5a" stroke-width="0.9" fill="none"/>
<text x="436.35" y="664.00" font-size="6.95" text-anchor="end" fill="#3a3a3a">2</text>
<circle cx="548.40" cy="543.40" r="2.45" fill="#000"/>
<circle cx="583.60" cy="555.30" r="2.45" fill="#000"/>
<path d="M583.60,560.4 L583.60,590.0" stroke="#555" stroke-width="1.6" fill="none"/>
<text x="525.50" y="573.80" font-size="6.95" fill="#3a3a3a">BLK/</text>
<text x="525.50" y="582.80" font-size="6.95" fill="#3a3a3a">ORG</text>
<text x="566.70" y="580.70" font-size="6.95" fill="#3a3a3a">BLK</text>
<text x="541.20" y="591.80" font-size="6.95" text-anchor="end" fill="#3a3a3a">1</text>
<text x="577.20" y="591.80" font-size="6.95" text-anchor="end" fill="#3a3a3a">3</text>
<path d="M544.50,592.60 Q544.50,590.20 548.40,590.20 Q552.30,590.20 552.30,592.60" stroke="#5a5a5a" stroke-width="0.9" fill="none"/>
<path d="M579.70,592.60 Q579.70,590.20 583.60,590.20 Q587.50,590.20 587.50,592.60" stroke="#5a5a5a" stroke-width="0.9" fill="none"/>
<rect x="539.40" y="594.4" width="54.8" height="61.7" rx="0.8" fill="#f0f0fc" stroke="#8a8a8a" stroke-width="1.2"/>
<text x="519.00" y="622.90" font-size="6.95" fill="#3a3a3a">NO.2</text>
<path d="M548.40,595.3 L548.40,614.4 M548.40,635.6 L548.40,655.4" stroke="#5a5a5a" stroke-width="0.9" fill="none"/>
<path d="M544.80,598.80 L548.40,595.60 L552.00,598.80" stroke="#5a5a5a" stroke-width="0.9" fill="none"/>
<path d="M544.80,652.20 L548.40,655.40 L552.00,652.20" stroke="#5a5a5a" stroke-width="0.9" fill="none"/>
<path d="M548.40,609.4 L572.40,609.4 L572.40,614.4" stroke="#5a5a5a" stroke-width="0.9" fill="none"/>
<circle cx="548.40" cy="609.40" r="1.8" fill="#000"/>
<path d="M548.40,614.40 C551.59,614.40 551.59,619.70 548.40,619.70 C551.59,619.70 551.59,625.00 548.40,625.00 C551.59,625.00 551.59,630.30 548.40,630.30 C551.59,630.30 551.59,635.60 548.40,635.60" stroke="#5a5a5a" stroke-width="0.9" fill="none"/>
<path d="M572.40,614.40 C569.21,614.40 569.21,619.70 572.40,619.70 C569.21,619.70 569.21,625.00 572.40,625.00 C569.21,625.00 569.21,630.30 572.40,630.30 C569.21,630.30 569.21,635.60 572.40,635.60" stroke="#5a5a5a" stroke-width="0.9" fill="none"/>
<path d="M558.60,615.3 L558.60,635.6 M562.40,615.3 L562.40,635.6" stroke="#8a8a8a" stroke-width="1.25" fill="none"/>
<path d="M572.40,635.6 L572.40,638.4 M572.40,643.2 L572.40,647.2" stroke="#5a5a5a" stroke-width="0.9" fill="none"/>
<path d="M569.40,638.3 L575.40,638.3 L572.40,642.5 Z" fill="#000"/>
<path d="M569.40,642.9 L575.40,642.9" stroke="#000" stroke-width="0.9"/>
<circle cx="572.40" cy="647.20" r="1.9" fill="#000"/>
<path d="M572.40,647.2 L583.60,647.2 L583.60,627.6 M583.60,624.4 L583.60,595.3" stroke="#5a5a5a" stroke-width="0.9" fill="none"/>
<path d="M579.40,624.4 L587.80,624.4" stroke="#5a5a5a" stroke-width="1.0"/>
<path d="M579.40,628.8 Q583.60,625.6 587.80,628.8" stroke="#5a5a5a" stroke-width="1.0" fill="none"/>
<path d="M580.00,598.80 L583.60,595.60 L587.20,598.80" stroke="#5a5a5a" stroke-width="0.9" fill="none"/>
<path d="M572.40,647.2 L572.40,653.8" stroke="#5a5a5a" stroke-width="0.9" fill="none"/>
<path d="M568.80,656.80 L572.40,653.60 L576.00,656.80" stroke="#5a5a5a" stroke-width="0.9" fill="none"/>
<rect x="570.40" y="656.2" width="4.0" height="4.0" fill="#fff" stroke="#6a6a6a" stroke-width="0.8"/>
<rect x="569.90" y="660.2" width="5.0" height="13.0" fill="#fff" stroke="#6a6a6a" stroke-width="0.8"/>
<path d="M569.90,661.80 L574.90,661.80" stroke="#6a6a6a" stroke-width="0.7"/>
<path d="M569.90,663.80 L574.90,663.80" stroke="#6a6a6a" stroke-width="0.7"/>
<path d="M569.90,665.80 L574.90,665.80" stroke="#6a6a6a" stroke-width="0.7"/>
<path d="M569.90,667.80 L574.90,667.80" stroke="#6a6a6a" stroke-width="0.7"/>
<path d="M569.90,669.80 L574.90,669.80" stroke="#6a6a6a" stroke-width="0.7"/>
<path d="M569.90,671.80 L574.90,671.80" stroke="#6a6a6a" stroke-width="0.7"/>
<rect x="569.60" y="673.2" width="5.6" height="4.0" fill="#fff" stroke="#6a6a6a" stroke-width="0.8"/>
<rect x="567.40" y="677.2" width="10.0" height="6.8" fill="#fff" stroke="#6a6a6a" stroke-width="0.8"/>
<rect x="567.40" y="684.0" width="10.0" height="17.0" fill="#b8b8b8" stroke="#9a9a9a" stroke-width="0.7"/>
<path d="M567.40,684.80 L577.40,681.00 M567.40,687.70 L577.40,683.90 M567.40,690.60 L577.40,686.80 M567.40,693.50 L577.40,689.70 M567.40,696.40 L577.40,692.60 M567.40,699.30 L577.40,695.50 M567.40,702.20 L577.40,698.40 M567.40,705.10 L577.40,701.30 " stroke="#4a4a4a" stroke-width="1.05" clip-path="url(#spc4)" fill="none"/>
<clipPath id="spc4"><rect x="567.40" y="684.0" width="10.0" height="17.0"/></clipPath>
<rect x="571.20" y="701.0" width="5.8" height="5.8" fill="#fff" stroke="#6a6a6a" stroke-width="0.8"/>
<path d="M573.20,701.5 L573.20,705 L574.80,705" stroke="#6a6a6a" stroke-width="0.6" fill="none"/>
<path d="M544.50,657.20 Q544.50,659.60 548.40,659.60 Q552.30,659.60 552.30,657.20" stroke="#5a5a5a" stroke-width="0.9" fill="none"/>
<text x="541.80" y="664.00" font-size="6.95" text-anchor="end" fill="#3a3a3a">2</text>
<circle cx="653.85" cy="543.40" r="2.45" fill="#000"/>
<circle cx="689.05" cy="555.30" r="2.45" fill="#000"/>
<path d="M689.05,560.4 L689.05,590.0" stroke="#555" stroke-width="1.6" fill="none"/>
<text x="630.95" y="573.80" font-size="6.95" fill="#3a3a3a">BLK/</text>
<text x="630.95" y="582.80" font-size="6.95" fill="#3a3a3a">ORG</text>
<text x="672.15" y="580.70" font-size="6.95" fill="#3a3a3a">BLK</text>
<text x="646.65" y="591.80" font-size="6.95" text-anchor="end" fill="#3a3a3a">1</text>
<text x="682.65" y="591.80" font-size="6.95" text-anchor="end" fill="#3a3a3a">3</text>
<path d="M649.95,592.60 Q649.95,590.20 653.85,590.20 Q657.75,590.20 657.75,592.60" stroke="#5a5a5a" stroke-width="0.9" fill="none"/>
<path d="M685.15,592.60 Q685.15,590.20 689.05,590.20 Q692.95,590.20 692.95,592.60" stroke="#5a5a5a" stroke-width="0.9" fill="none"/>
<rect x="644.85" y="594.4" width="54.8" height="61.7" rx="0.8" fill="#f0f0fc" stroke="#8a8a8a" stroke-width="1.2"/>
<text x="624.45" y="622.90" font-size="6.95" fill="#3a3a3a">NO.1</text>
<path d="M653.85,595.3 L653.85,614.4 M653.85,635.6 L653.85,655.4" stroke="#5a5a5a" stroke-width="0.9" fill="none"/>
<path d="M650.25,598.80 L653.85,595.60 L657.45,598.80" stroke="#5a5a5a" stroke-width="0.9" fill="none"/>
<path d="M650.25,652.20 L653.85,655.40 L657.45,652.20" stroke="#5a5a5a" stroke-width="0.9" fill="none"/>
<path d="M653.85,609.4 L677.85,609.4 L677.85,614.4" stroke="#5a5a5a" stroke-width="0.9" fill="none"/>
<circle cx="653.85" cy="609.40" r="1.8" fill="#000"/>
<path d="M653.85,614.40 C657.04,614.40 657.04,619.70 653.85,619.70 C657.04,619.70 657.04,625.00 653.85,625.00 C657.04,625.00 657.04,630.30 653.85,630.30 C657.04,630.30 657.04,635.60 653.85,635.60" stroke="#5a5a5a" stroke-width="0.9" fill="none"/>
<path d="M677.85,614.40 C674.66,614.40 674.66,619.70 677.85,619.70 C674.66,619.70 674.66,625.00 677.85,625.00 C674.66,625.00 674.66,630.30 677.85,630.30 C674.66,630.30 674.66,635.60 677.85,635.60" stroke="#5a5a5a" stroke-width="0.9" fill="none"/>
<path d="M664.05,615.3 L664.05,635.6 M667.85,615.3 L667.85,635.6" stroke="#8a8a8a" stroke-width="1.25" fill="none"/>
<path d="M677.85,635.6 L677.85,638.4 M677.85,643.2 L677.85,647.2" stroke="#5a5a5a" stroke-width="0.9" fill="none"/>
<path d="M674.85,638.3 L680.85,638.3 L677.85,642.5 Z" fill="#000"/>
<path d="M674.85,642.9 L680.85,642.9" stroke="#000" stroke-width="0.9"/>
<circle cx="677.85" cy="647.20" r="1.9" fill="#000"/>
<path d="M677.85,647.2 L689.05,647.2 L689.05,627.6 M689.05,624.4 L689.05,595.3" stroke="#5a5a5a" stroke-width="0.9" fill="none"/>
<path d="M684.85,624.4 L693.25,624.4" stroke="#5a5a5a" stroke-width="1.0"/>
<path d="M684.85,628.8 Q689.05,625.6 693.25,628.8" stroke="#5a5a5a" stroke-width="1.0" fill="none"/>
<path d="M685.45,598.80 L689.05,595.60 L692.65,598.80" stroke="#5a5a5a" stroke-width="0.9" fill="none"/>
<path d="M677.85,647.2 L677.85,653.8" stroke="#5a5a5a" stroke-width="0.9" fill="none"/>
<path d="M674.25,656.80 L677.85,653.60 L681.45,656.80" stroke="#5a5a5a" stroke-width="0.9" fill="none"/>
<rect x="675.85" y="656.2" width="4.0" height="4.0" fill="#fff" stroke="#6a6a6a" stroke-width="0.8"/>
<rect x="675.35" y="660.2" width="5.0" height="13.0" fill="#fff" stroke="#6a6a6a" stroke-width="0.8"/>
<path d="M675.35,661.80 L680.35,661.80" stroke="#6a6a6a" stroke-width="0.7"/>
<path d="M675.35,663.80 L680.35,663.80" stroke="#6a6a6a" stroke-width="0.7"/>
<path d="M675.35,665.80 L680.35,665.80" stroke="#6a6a6a" stroke-width="0.7"/>
<path d="M675.35,667.80 L680.35,667.80" stroke="#6a6a6a" stroke-width="0.7"/>
<path d="M675.35,669.80 L680.35,669.80" stroke="#6a6a6a" stroke-width="0.7"/>
<path d="M675.35,671.80 L680.35,671.80" stroke="#6a6a6a" stroke-width="0.7"/>
<rect x="675.05" y="673.2" width="5.6" height="4.0" fill="#fff" stroke="#6a6a6a" stroke-width="0.8"/>
<rect x="672.85" y="677.2" width="10.0" height="6.8" fill="#fff" stroke="#6a6a6a" stroke-width="0.8"/>
<rect x="672.85" y="684.0" width="10.0" height="17.0" fill="#b8b8b8" stroke="#9a9a9a" stroke-width="0.7"/>
<path d="M672.85,684.80 L682.85,681.00 M672.85,687.70 L682.85,683.90 M672.85,690.60 L682.85,686.80 M672.85,693.50 L682.85,689.70 M672.85,696.40 L682.85,692.60 M672.85,699.30 L682.85,695.50 M672.85,702.20 L682.85,698.40 M672.85,705.10 L682.85,701.30 " stroke="#4a4a4a" stroke-width="1.05" clip-path="url(#spc5)" fill="none"/>
<clipPath id="spc5"><rect x="672.85" y="684.0" width="10.0" height="17.0"/></clipPath>
<rect x="676.65" y="701.0" width="5.8" height="5.8" fill="#fff" stroke="#6a6a6a" stroke-width="0.8"/>
<path d="M678.65,701.5 L678.65,705 L680.25,705" stroke="#6a6a6a" stroke-width="0.6" fill="none"/>
<path d="M649.95,657.20 Q649.95,659.60 653.85,659.60 Q657.75,659.60 657.75,657.20" stroke="#5a5a5a" stroke-width="0.9" fill="none"/>
<text x="647.25" y="664.00" font-size="6.95" text-anchor="end" fill="#3a3a3a">2</text>
<text x="58.30" y="699.60" font-size="6.95" fill="#3a3a3a">RED/</text>
<text x="58.30" y="707.60" font-size="6.95" fill="#3a3a3a">GRN</text>
<text x="103.90" y="699.60" font-size="6.95" fill="#3a3a3a">GRN/</text>
<text x="103.90" y="707.60" font-size="6.95" fill="#3a3a3a">ORG</text>
<text x="163.60" y="699.60" font-size="6.95" fill="#3a3a3a">RED/</text>
<text x="163.60" y="707.60" font-size="6.95" fill="#3a3a3a">YEL</text>
<text x="209.40" y="699.60" font-size="6.95" fill="#3a3a3a">GRN/</text>
<text x="209.40" y="707.60" font-size="6.95" fill="#3a3a3a">WHT</text>
<text x="268.50" y="699.60" font-size="6.95" fill="#3a3a3a">RED/</text>
<text x="268.50" y="707.60" font-size="6.95" fill="#3a3a3a">WHT</text>
<text x="315.00" y="699.60" font-size="6.95" fill="#3a3a3a">GRN/</text>
<text x="315.00" y="707.60" font-size="6.95" fill="#3a3a3a">YEL</text>
<text x="374.90" y="699.60" font-size="6.95" fill="#3a3a3a">RED/</text>
<text x="374.90" y="707.60" font-size="6.95" fill="#3a3a3a">BLU</text>
<text x="420.70" y="699.60" font-size="6.95" fill="#3a3a3a">GRN/</text>
<text x="420.70" y="707.60" font-size="6.95" fill="#3a3a3a">RED</text>
<text x="478.50" y="699.60" font-size="6.95" fill="#3a3a3a">RED/</text>
<text x="478.50" y="707.60" font-size="6.95" fill="#3a3a3a">BLK</text>
<text x="526.00" y="699.60" font-size="6.95" fill="#3a3a3a">GRN/</text>
<text x="526.00" y="707.60" font-size="6.95" fill="#3a3a3a">BLK</text>
<text x="588.30" y="699.60" font-size="6.95" fill="#3a3a3a">RED</text>
<text x="634.50" y="699.60" font-size="6.95" fill="#3a3a3a">GRN</text>
<text x="725.00" y="699.60" font-size="6.95" fill="#3a3a3a">BLK/</text>
<text x="725.00" y="707.60" font-size="6.95" fill="#3a3a3a">YEL</text>
<text x="765.40" y="705.70" font-size="6.95" fill="#3a3a3a">BLK</text>
<rect x="64.6" y="723.4" width="741.0" height="46.1" fill="#f0f0fc" stroke="#8a8a8a" stroke-width="1.2"/>
<path d="M75.80,721.70 Q75.80,719.30 79.70,719.30 Q83.60,719.30 83.60,721.70" stroke="#5a5a5a" stroke-width="0.9" fill="none"/>
<path d="M122.70,721.70 Q122.70,719.30 126.60,719.30 Q130.50,719.30 130.50,721.70" stroke="#5a5a5a" stroke-width="0.9" fill="none"/>
<text x="72.80" y="720.30" font-size="6.95" text-anchor="end" fill="#3a3a3a">1</text>
<text x="86.00" y="720.00" font-size="6.95" fill="#3a3a3a">C137</text>
<path d="M86.00,720.90 L102.61,720.90" stroke="#555" stroke-width="0.7"/>
<text x="121.00" y="720.30" font-size="6.95" text-anchor="end" fill="#3a3a3a">6</text>
<text x="134.10" y="720.00" font-size="6.95" fill="#3a3a3a">C145</text>
<path d="M134.10,720.90 L150.71,720.90" stroke="#555" stroke-width="0.7"/>
<path d="M76.10,727.10 L79.70,723.90 L83.30,727.10" stroke="#5a5a5a" stroke-width="0.9" fill="none"/>
<path d="M123.00,727.10 L126.60,723.90 L130.20,727.10" stroke="#5a5a5a" stroke-width="0.9" fill="none"/>
<path d="M79.70,723.9 L79.70,737.90 L88.40,737.90 L90.10,735.60 L92.55,740.20 L95.00,735.60 L97.45,740.20 L99.90,735.60 L102.35,740.20 L104.80,735.60 L107.25,740.20 L110.00,737.90" stroke="#555" stroke-width="0.85" fill="none" stroke-linejoin="round"/>
<path d="M110.00,737.90 L117.50,737.90" stroke="#a0a0a0" stroke-width="1.4"/>
<circle cx="120.50" cy="737.90" r="10" fill="none" stroke="#3a3a3a" stroke-width="0.9"/>
<path d="M117.50,732.2 L117.50,743.7" stroke="#3a3a3a" stroke-width="1.0"/>
<path d="M117.50,735.3 L126.60,730.8 L126.60,723.9" stroke="#3a3a3a" stroke-width="0.9" fill="none"/>
<path d="M117.50,740.6 L126.60,745.4 L126.60,754.4" stroke="#3a3a3a" stroke-width="0.9" fill="none"/>
<path d="M127.00,745.60 L122.18,745.32 L124.04,741.78 Z" fill="#000"/>
<circle cx="126.60" cy="754.40" r="2.4" fill="#000"/>
<path d="M122.00,756.9 L131.20,756.9 M124.00,758.8 L129.20,758.8 M125.60,760.7 L127.60,760.7" stroke="#333" stroke-width="0.9"/>
<path d="M181.25,721.70 Q181.25,719.30 185.15,719.30 Q189.05,719.30 189.05,721.70" stroke="#5a5a5a" stroke-width="0.9" fill="none"/>
<path d="M228.15,721.70 Q228.15,719.30 232.05,719.30 Q235.95,719.30 235.95,721.70" stroke="#5a5a5a" stroke-width="0.9" fill="none"/>
<text x="178.25" y="720.30" font-size="6.95" text-anchor="end" fill="#3a3a3a">2</text>
<text x="191.45" y="720.00" font-size="6.95" fill="#3a3a3a">C137</text>
<path d="M191.45,720.90 L208.06,720.90" stroke="#555" stroke-width="0.7"/>
<text x="226.45" y="720.30" font-size="6.95" text-anchor="end" fill="#3a3a3a">5</text>
<text x="239.55" y="720.00" font-size="6.95" fill="#3a3a3a">C145</text>
<path d="M239.55,720.90 L256.16,720.90" stroke="#555" stroke-width="0.7"/>
<path d="M181.55,727.10 L185.15,723.90 L188.75,727.10" stroke="#5a5a5a" stroke-width="0.9" fill="none"/>
<path d="M228.45,727.10 L232.05,723.90 L235.65,727.10" stroke="#5a5a5a" stroke-width="0.9" fill="none"/>
<path d="M185.15,723.9 L185.15,737.90 L193.85,737.90 L195.55,735.60 L198.00,740.20 L200.45,735.60 L202.90,740.20 L205.35,735.60 L207.80,740.20 L210.25,735.60 L212.70,740.20 L215.45,737.90" stroke="#555" stroke-width="0.85" fill="none" stroke-linejoin="round"/>
<path d="M215.45,737.90 L222.95,737.90" stroke="#a0a0a0" stroke-width="1.4"/>
<circle cx="225.95" cy="737.90" r="10" fill="none" stroke="#3a3a3a" stroke-width="0.9"/>
<path d="M222.95,732.2 L222.95,743.7" stroke="#3a3a3a" stroke-width="1.0"/>
<path d="M222.95,735.3 L232.05,730.8 L232.05,723.9" stroke="#3a3a3a" stroke-width="0.9" fill="none"/>
<path d="M222.95,740.6 L232.05,745.4 L232.05,754.4" stroke="#3a3a3a" stroke-width="0.9" fill="none"/>
<path d="M232.45,745.60 L227.63,745.32 L229.49,741.78 Z" fill="#000"/>
<circle cx="232.05" cy="754.40" r="2.4" fill="#000"/>
<path d="M227.45,756.9 L236.65,756.9 M229.45,758.8 L234.65,758.8 M231.05,760.7 L233.05,760.7" stroke="#333" stroke-width="0.9"/>
<path d="M286.70,721.70 Q286.70,719.30 290.60,719.30 Q294.50,719.30 294.50,721.70" stroke="#5a5a5a" stroke-width="0.9" fill="none"/>
<path d="M333.60,721.70 Q333.60,719.30 337.50,719.30 Q341.40,719.30 341.40,721.70" stroke="#5a5a5a" stroke-width="0.9" fill="none"/>
<text x="283.70" y="720.30" font-size="6.95" text-anchor="end" fill="#3a3a3a">3</text>
<text x="296.90" y="720.00" font-size="6.95" fill="#3a3a3a">C137</text>
<path d="M296.90,720.90 L313.51,720.90" stroke="#555" stroke-width="0.7"/>
<text x="331.90" y="720.30" font-size="6.95" text-anchor="end" fill="#3a3a3a">4</text>
<text x="345.00" y="720.00" font-size="6.95" fill="#3a3a3a">C145</text>
<path d="M345.00,720.90 L361.61,720.90" stroke="#555" stroke-width="0.7"/>
<path d="M287.00,727.10 L290.60,723.90 L294.20,727.10" stroke="#5a5a5a" stroke-width="0.9" fill="none"/>
<path d="M333.90,727.10 L337.50,723.90 L341.10,727.10" stroke="#5a5a5a" stroke-width="0.9" fill="none"/>
<path d="M290.60,723.9 L290.60,737.90 L299.30,737.90 L301.00,735.60 L303.45,740.20 L305.90,735.60 L308.35,740.20 L310.80,735.60 L313.25,740.20 L315.70,735.60 L318.15,740.20 L320.90,737.90" stroke="#555" stroke-width="0.85" fill="none" stroke-linejoin="round"/>
<path d="M320.90,737.90 L328.40,737.90" stroke="#a0a0a0" stroke-width="1.4"/>
<circle cx="331.40" cy="737.90" r="10" fill="none" stroke="#3a3a3a" stroke-width="0.9"/>
<path d="M328.40,732.2 L328.40,743.7" stroke="#3a3a3a" stroke-width="1.0"/>
<path d="M328.40,735.3 L337.50,730.8 L337.50,723.9" stroke="#3a3a3a" stroke-width="0.9" fill="none"/>
<path d="M328.40,740.6 L337.50,745.4 L337.50,754.4" stroke="#3a3a3a" stroke-width="0.9" fill="none"/>
<path d="M337.90,745.60 L333.08,745.32 L334.94,741.78 Z" fill="#000"/>
<circle cx="337.50" cy="754.40" r="2.4" fill="#000"/>
<path d="M332.90,756.9 L342.10,756.9 M334.90,758.8 L340.10,758.8 M336.50,760.7 L338.50,760.7" stroke="#333" stroke-width="0.9"/>
<path d="M392.15,721.70 Q392.15,719.30 396.05,719.30 Q399.95,719.30 399.95,721.70" stroke="#5a5a5a" stroke-width="0.9" fill="none"/>
<path d="M439.05,721.70 Q439.05,719.30 442.95,719.30 Q446.85,719.30 446.85,721.70" stroke="#5a5a5a" stroke-width="0.9" fill="none"/>
<text x="389.15" y="720.30" font-size="6.95" text-anchor="end" fill="#3a3a3a">1</text>
<text x="402.35" y="720.00" font-size="6.95" fill="#3a3a3a">C146</text>
<path d="M402.35,720.90 L418.96,720.90" stroke="#555" stroke-width="0.7"/>
<text x="437.35" y="720.30" font-size="6.95" text-anchor="end" fill="#3a3a3a">3</text>
<text x="450.45" y="720.00" font-size="6.95" fill="#3a3a3a">C145</text>
<path d="M450.45,720.90 L467.06,720.90" stroke="#555" stroke-width="0.7"/>
<path d="M392.45,727.10 L396.05,723.90 L399.65,727.10" stroke="#5a5a5a" stroke-width="0.9" fill="none"/>
<path d="M439.35,727.10 L442.95,723.90 L446.55,727.10" stroke="#5a5a5a" stroke-width="0.9" fill="none"/>
<path d="M396.05,723.9 L396.05,737.90 L404.75,737.90 L406.45,735.60 L408.90,740.20 L411.35,735.60 L413.80,740.20 L416.25,735.60 L418.70,740.20 L421.15,735.60 L423.60,740.20 L426.35,737.90" stroke="#555" stroke-width="0.85" fill="none" stroke-linejoin="round"/>
<path d="M426.35,737.90 L433.85,737.90" stroke="#a0a0a0" stroke-width="1.4"/>
<circle cx="436.85" cy="737.90" r="10" fill="none" stroke="#3a3a3a" stroke-width="0.9"/>
<path d="M433.85,732.2 L433.85,743.7" stroke="#3a3a3a" stroke-width="1.0"/>
<path d="M433.85,735.3 L442.95,730.8 L442.95,723.9" stroke="#3a3a3a" stroke-width="0.9" fill="none"/>
<path d="M433.85,740.6 L442.95,745.4 L442.95,754.4" stroke="#3a3a3a" stroke-width="0.9" fill="none"/>
<path d="M443.35,745.60 L438.53,745.32 L440.39,741.78 Z" fill="#000"/>
<circle cx="442.95" cy="754.40" r="2.4" fill="#000"/>
<path d="M438.35,756.9 L447.55,756.9 M440.35,758.8 L445.55,758.8 M441.95,760.7 L443.95,760.7" stroke="#333" stroke-width="0.9"/>
<path d="M497.60,721.70 Q497.60,719.30 501.50,719.30 Q505.40,719.30 505.40,721.70" stroke="#5a5a5a" stroke-width="0.9" fill="none"/>
<path d="M544.50,721.70 Q544.50,719.30 548.40,719.30 Q552.30,719.30 552.30,721.70" stroke="#5a5a5a" stroke-width="0.9" fill="none"/>
<text x="494.60" y="720.30" font-size="6.95" text-anchor="end" fill="#3a3a3a">2</text>
<text x="507.80" y="720.00" font-size="6.95" fill="#3a3a3a">C146</text>
<path d="M507.80,720.90 L524.41,720.90" stroke="#555" stroke-width="0.7"/>
<text x="542.80" y="720.30" font-size="6.95" text-anchor="end" fill="#3a3a3a">1</text>
<text x="555.90" y="720.00" font-size="6.95" fill="#3a3a3a">C145</text>
<path d="M555.90,720.90 L572.51,720.90" stroke="#555" stroke-width="0.7"/>
<path d="M497.90,727.10 L501.50,723.90 L505.10,727.10" stroke="#5a5a5a" stroke-width="0.9" fill="none"/>
<path d="M544.80,727.10 L548.40,723.90 L552.00,727.10" stroke="#5a5a5a" stroke-width="0.9" fill="none"/>
<path d="M501.50,723.9 L501.50,737.90 L510.20,737.90 L511.90,735.60 L514.35,740.20 L516.80,735.60 L519.25,740.20 L521.70,735.60 L524.15,740.20 L526.60,735.60 L529.05,740.20 L531.80,737.90" stroke="#555" stroke-width="0.85" fill="none" stroke-linejoin="round"/>
<path d="M531.80,737.90 L539.30,737.90" stroke="#a0a0a0" stroke-width="1.4"/>
<circle cx="542.30" cy="737.90" r="10" fill="none" stroke="#3a3a3a" stroke-width="0.9"/>
<path d="M539.30,732.2 L539.30,743.7" stroke="#3a3a3a" stroke-width="1.0"/>
<path d="M539.30,735.3 L548.40,730.8 L548.40,723.9" stroke="#3a3a3a" stroke-width="0.9" fill="none"/>
<path d="M539.30,740.6 L548.40,745.4 L548.40,754.4" stroke="#3a3a3a" stroke-width="0.9" fill="none"/>
<path d="M548.80,745.60 L543.98,745.32 L545.84,741.78 Z" fill="#000"/>
<circle cx="548.40" cy="754.40" r="2.4" fill="#000"/>
<path d="M543.80,756.9 L553.00,756.9 M545.80,758.8 L551.00,758.8 M547.40,760.7 L549.40,760.7" stroke="#333" stroke-width="0.9"/>
<path d="M603.05,721.70 Q603.05,719.30 606.95,719.30 Q610.85,719.30 610.85,721.70" stroke="#5a5a5a" stroke-width="0.9" fill="none"/>
<path d="M649.95,721.70 Q649.95,719.30 653.85,719.30 Q657.75,719.30 657.75,721.70" stroke="#5a5a5a" stroke-width="0.9" fill="none"/>
<text x="594.95" y="720.30" font-size="6.95" text-anchor="end" fill="#3a3a3a">3</text>
<text x="617.95" y="720.00" font-size="6.95" fill="#3a3a3a">C146</text>
<path d="M617.95,720.90 L634.56,720.90" stroke="#555" stroke-width="0.7"/>
<text x="648.25" y="720.30" font-size="6.95" text-anchor="end" fill="#3a3a3a">2</text>
<text x="661.35" y="720.00" font-size="6.95" fill="#3a3a3a">C145</text>
<path d="M661.35,720.90 L677.96,720.90" stroke="#555" stroke-width="0.7"/>
<path d="M603.35,727.10 L606.95,723.90 L610.55,727.10" stroke="#5a5a5a" stroke-width="0.9" fill="none"/>
<path d="M650.25,727.10 L653.85,723.90 L657.45,727.10" stroke="#5a5a5a" stroke-width="0.9" fill="none"/>
<path d="M606.95,723.9 L606.95,737.90 L615.65,737.90 L617.35,735.60 L619.80,740.20 L622.25,735.60 L624.70,740.20 L627.15,735.60 L629.60,740.20 L632.05,735.60 L634.50,740.20 L637.25,737.90" stroke="#555" stroke-width="0.85" fill="none" stroke-linejoin="round"/>
<path d="M637.25,737.90 L644.75,737.90" stroke="#a0a0a0" stroke-width="1.4"/>
<circle cx="647.75" cy="737.90" r="10" fill="none" stroke="#3a3a3a" stroke-width="0.9"/>
<path d="M644.75,732.2 L644.75,743.7" stroke="#3a3a3a" stroke-width="1.0"/>
<path d="M644.75,735.3 L653.85,730.8 L653.85,723.9" stroke="#3a3a3a" stroke-width="0.9" fill="none"/>
<path d="M644.75,740.6 L653.85,745.4 L653.85,754.4" stroke="#3a3a3a" stroke-width="0.9" fill="none"/>
<path d="M654.25,745.60 L649.43,745.32 L651.29,741.78 Z" fill="#000"/>
<circle cx="653.85" cy="754.40" r="2.4" fill="#000"/>
<path d="M649.25,756.9 L658.45,756.9 M651.25,758.8 L656.45,758.8 M652.85,760.7 L654.85,760.7" stroke="#333" stroke-width="0.9"/>
<path d="M744.00,721.40 Q744.00,719.00 747.90,719.00 Q751.80,719.00 751.80,721.40" stroke="#5a5a5a" stroke-width="0.9" fill="none"/>
<path d="M779.00,721.40 Q779.00,719.00 782.90,719.00 Q786.80,719.00 786.80,721.40" stroke="#5a5a5a" stroke-width="0.9" fill="none"/>
<path d="M751.8,721.3 L758.9,721.3 M763.0,721.3 L769.8,721.3 M773.8,721.3 L779.0,721.3" stroke="#5a5a5a" stroke-width="0.9"/>
<text x="742.00" y="719.20" font-size="6.95" text-anchor="end" fill="#3a3a3a">4</text>
<text x="777.30" y="719.20" font-size="6.95" text-anchor="end" fill="#3a3a3a">5</text>
<text x="788.80" y="719.40" font-size="6.95" fill="#3a3a3a">C137</text>
<path d="M788.80,720.30 L805.41,720.30" stroke="#555" stroke-width="0.7"/>
<text x="741.20" y="732.80" font-size="6.95" fill="#3a3a3a">IGN</text>
<text x="775.10" y="732.80" font-size="6.95" fill="#3a3a3a">GRD</text>
<text x="808.50" y="729.50" font-size="6.95" fill="#4a86c8">IGNITION</text>
<text x="808.50" y="737.90" font-size="6.95" fill="#4a86c8">CONTROL</text>
<text x="808.50" y="746.50" font-size="6.95" fill="#4a86c8">MODULE</text>
<text x="808.50" y="754.90" font-size="6.95" fill="#3a3a3a">(TOP CENTER</text>
<text x="808.50" y="764.20" font-size="6.95" fill="#3a3a3a">OF ENGINE)</text>
<text x="702.50" y="606.80" font-size="6.95" fill="#4a86c8">IGNITION</text>
<text x="702.50" y="614.70" font-size="6.95" fill="#4a86c8">COILS</text>
<text x="812.30" y="640.90" font-size="6.95" fill="#3a3a3a">BLK</text>
<circle cx="829.80" cy="666.00" r="2.3" fill="#000"/>
<path d="M825.2,668.6 L834.4,668.6 M827.2,670.8 L832.4,670.8 M828.8,673.0 L830.8,673.0" stroke="#333" stroke-width="0.9"/>
<text x="830.00" y="684.00" font-size="6.95" text-anchor="middle" fill="#3a3a3a">G115</text>
<text x="809.60" y="692.50" font-size="6.95" fill="#3a3a3a">(TOP REAR</text>
<text x="809.20" y="701.00" font-size="6.95" fill="#3a3a3a">OF ENGINE)</text>
<text x="26.70" y="773.00" font-size="6.95" fill="#3a3a3a">80482</text>
<rect x="857.6" y="76.9" width="1.3" height="1.1" fill="#999"/>
</svg>
</body></html>
